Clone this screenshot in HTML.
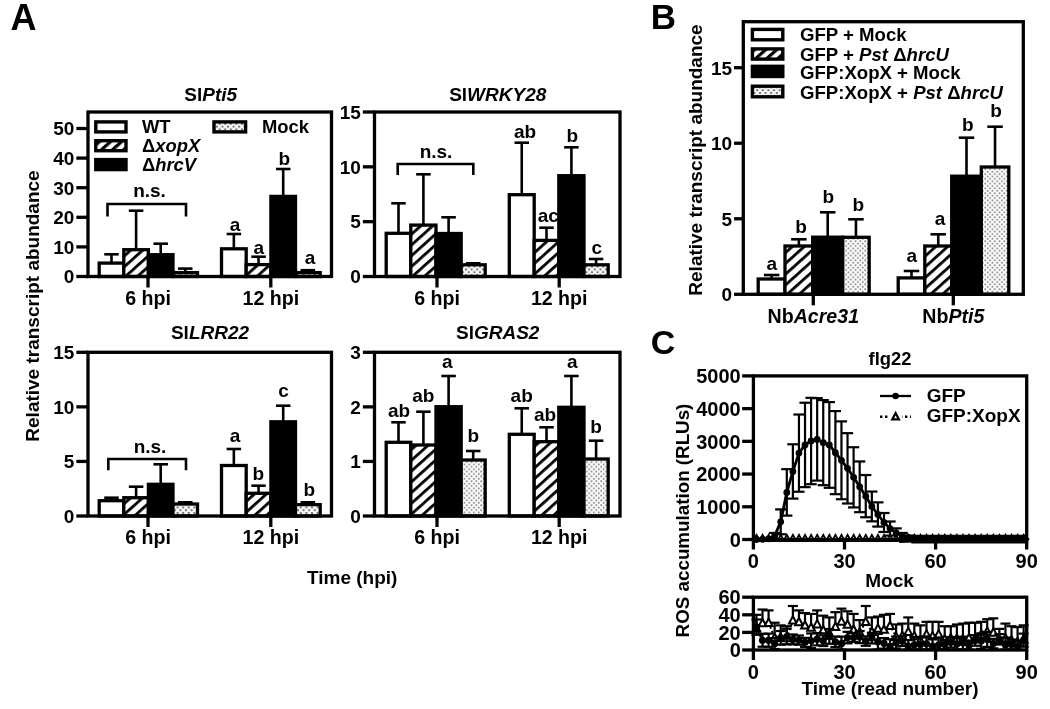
<!DOCTYPE html>
<html><head><meta charset="utf-8"><title>Figure</title>
<style>
html,body{margin:0;padding:0;background:#fff;}
svg{display:block;filter:blur(0.5px);}
text{font-family:"Liberation Sans",sans-serif;font-weight:bold;fill:#000;}
</style></head><body>
<svg width="1050" height="709" viewBox="0 0 1050 709">
<defs>
<pattern id="hatch" width="8" height="8" patternUnits="userSpaceOnUse" patternTransform="rotate(-42)">
<rect width="8" height="8" fill="#fff"/><rect x="0" y="0" width="8" height="2.8" fill="#000"/>
</pattern>
<pattern id="hatchL" width="7.4" height="7.4" patternUnits="userSpaceOnUse" patternTransform="rotate(-42)">
<rect width="7.4" height="7.4" fill="#fff"/><rect x="0" y="0" width="7.4" height="3.2" fill="#000"/>
</pattern>
<pattern id="dots" width="4.8" height="4.8" patternUnits="userSpaceOnUse">
<rect width="4.8" height="4.8" fill="#fdfdfd"/>
<circle cx="1.2" cy="1.2" r="0.9" fill="#777"/><circle cx="3.6" cy="3.6" r="0.9" fill="#777"/>
</pattern>
<pattern id="dotsL" width="5.6" height="5.6" patternUnits="userSpaceOnUse" patternTransform="translate(1.2 0.6)">
<rect width="5.6" height="5.6" fill="#fff"/>
<circle cx="0" cy="0" r="1.25" fill="#777"/><circle cx="5.6" cy="0" r="1.25" fill="#777"/><circle cx="0" cy="5.6" r="1.25" fill="#777"/><circle cx="5.6" cy="5.6" r="1.25" fill="#777"/>
<circle cx="2.8" cy="2.8" r="1.25" fill="#777"/>
</pattern>
</defs>
<rect width="1050" height="709" fill="#fff"/>

<text x="10.6" y="30" font-size="36" text-anchor="start" >A</text>
<text x="650.8" y="29.4" font-size="35" text-anchor="start" >B</text>
<text x="650.8" y="354" font-size="34" text-anchor="start" >C</text>
<line x1="111.5" y1="263.1" x2="111.5" y2="254.3" stroke="#000" stroke-width="2.6" />
<line x1="104.25" y1="254.3" x2="118.75" y2="254.3" stroke="#000" stroke-width="2.6" />
<rect x="99.2" y="263.1" width="24.6" height="13.4" fill="#fff" stroke="#000" stroke-width="3.3"/>
<line x1="136.1" y1="249.7" x2="136.1" y2="210.7" stroke="#000" stroke-width="2.6" />
<line x1="128.85" y1="210.7" x2="143.35" y2="210.7" stroke="#000" stroke-width="2.6" />
<rect x="123.8" y="249.7" width="24.6" height="26.8" fill="url(#hatch)" stroke="#000" stroke-width="3.3"/>
<line x1="160.7" y1="254.7" x2="160.7" y2="243.7" stroke="#000" stroke-width="2.6" />
<line x1="153.45" y1="243.7" x2="167.95" y2="243.7" stroke="#000" stroke-width="2.6" />
<rect x="148.4" y="254.7" width="24.6" height="21.8" fill="#000" stroke="#000" stroke-width="3.3"/>
<line x1="185.25" y1="272.6" x2="185.25" y2="268.6" stroke="#000" stroke-width="2.6" />
<line x1="178" y1="268.6" x2="192.5" y2="268.6" stroke="#000" stroke-width="2.6" />
<rect x="173" y="272.6" width="24.5" height="3.9" fill="url(#dotsL)" stroke="#000" stroke-width="3.3"/>
<line x1="233.85" y1="248.8" x2="233.85" y2="234" stroke="#000" stroke-width="2.6" />
<line x1="226.6" y1="234" x2="241.1" y2="234" stroke="#000" stroke-width="2.6" />
<rect x="221.5" y="248.8" width="24.7" height="27.7" fill="#fff" stroke="#000" stroke-width="3.3"/>
<line x1="258.55" y1="264.6" x2="258.55" y2="256.7" stroke="#000" stroke-width="2.6" />
<line x1="251.3" y1="256.7" x2="265.8" y2="256.7" stroke="#000" stroke-width="2.6" />
<rect x="246.2" y="264.6" width="24.7" height="11.9" fill="url(#hatch)" stroke="#000" stroke-width="3.3"/>
<line x1="283.2" y1="196.4" x2="283.2" y2="169" stroke="#000" stroke-width="2.6" />
<line x1="275.95" y1="169" x2="290.45" y2="169" stroke="#000" stroke-width="2.6" />
<rect x="270.9" y="196.4" width="24.6" height="80.1" fill="#000" stroke="#000" stroke-width="3.3"/>
<line x1="307.85" y1="272.6" x2="307.85" y2="270.2" stroke="#000" stroke-width="2.6" />
<line x1="300.6" y1="270.2" x2="315.1" y2="270.2" stroke="#000" stroke-width="2.6" />
<rect x="295.5" y="272.6" width="24.7" height="3.9" fill="url(#dotsL)" stroke="#000" stroke-width="3.3"/>
<text x="235" y="231.2" font-size="19" text-anchor="middle" >a</text>
<text x="258.8" y="253.5" font-size="19" text-anchor="middle" >a</text>
<text x="284.3" y="165.4" font-size="19" text-anchor="middle" >b</text>
<text x="310" y="264.2" font-size="19" text-anchor="middle" >a</text>
<polyline points="107.5,216.4 107.5,204 186,204 186,216.4" fill="none" stroke="#000" stroke-width="2.6"/>
<text x="149.5" y="196.9" font-size="19" text-anchor="middle" >n.s.</text>
<rect x="88" y="112" width="243.5" height="164.5" fill="none" stroke="#000" stroke-width="3.3"/>
<line x1="76.35" y1="276.5" x2="88" y2="276.5" stroke="#000" stroke-width="3.3" />
<text x="74.35" y="283.3" font-size="19" text-anchor="end" >0</text>
<line x1="76.35" y1="246.9" x2="88" y2="246.9" stroke="#000" stroke-width="3.3" />
<text x="74.35" y="253.7" font-size="19" text-anchor="end" >10</text>
<line x1="76.35" y1="217.3" x2="88" y2="217.3" stroke="#000" stroke-width="3.3" />
<text x="74.35" y="224.1" font-size="19" text-anchor="end" >20</text>
<line x1="76.35" y1="187.7" x2="88" y2="187.7" stroke="#000" stroke-width="3.3" />
<text x="74.35" y="194.5" font-size="19" text-anchor="end" >30</text>
<line x1="76.35" y1="158.1" x2="88" y2="158.1" stroke="#000" stroke-width="3.3" />
<text x="74.35" y="164.9" font-size="19" text-anchor="end" >40</text>
<line x1="76.35" y1="128.5" x2="88" y2="128.5" stroke="#000" stroke-width="3.3" />
<text x="74.35" y="135.3" font-size="19" text-anchor="end" >50</text>
<line x1="148" y1="276.5" x2="148" y2="287.5" stroke="#000" stroke-width="3.3" />
<text x="148" y="304.6" font-size="19.6" text-anchor="middle" >6 hpi</text>
<line x1="270.8" y1="276.5" x2="270.8" y2="287.5" stroke="#000" stroke-width="3.3" />
<text x="270.8" y="304.6" font-size="19.6" text-anchor="middle" >12 hpi</text>
<text x="210.7" y="100.5" font-size="19" text-anchor="middle" >Sl<tspan font-style="italic">Pti5</tspan></text>
<rect x="95.8" y="121.9" width="30.2" height="10" fill="#fff" stroke="#000" stroke-width="3.4"/>
<rect x="95.8" y="140.7" width="30.2" height="10" fill="url(#hatchL)" stroke="#000" stroke-width="3.4"/>
<rect x="95.8" y="159.6" width="30.2" height="10" fill="#000" stroke="#000" stroke-width="3.4"/>
<rect x="214" y="121.9" width="31.6" height="10" fill="url(#dotsL)" stroke="#000" stroke-width="3.4"/>
<text x="142" y="132.8" font-size="18.4" text-anchor="start" >WT</text>
<text x="142" y="151.8" font-size="18.4" text-anchor="start" ><tspan font-style="italic"><tspan font-style="normal">Δ</tspan>xopX</tspan></text>
<text x="142" y="170.8" font-size="18.4" text-anchor="start" ><tspan font-style="italic"><tspan font-style="normal">Δ</tspan>hrcV</tspan></text>
<text x="262" y="132.8" font-size="18.4" text-anchor="start" >Mock</text>
<line x1="398.5" y1="233.3" x2="398.5" y2="203.3" stroke="#000" stroke-width="2.6" />
<line x1="391.25" y1="203.3" x2="405.75" y2="203.3" stroke="#000" stroke-width="2.6" />
<rect x="386.2" y="233.3" width="24.6" height="43.2" fill="#fff" stroke="#000" stroke-width="3.3"/>
<line x1="423.4" y1="225.1" x2="423.4" y2="174.3" stroke="#000" stroke-width="2.6" />
<line x1="416.15" y1="174.3" x2="430.65" y2="174.3" stroke="#000" stroke-width="2.6" />
<rect x="410.8" y="225.1" width="25.2" height="51.4" fill="url(#hatch)" stroke="#000" stroke-width="3.3"/>
<line x1="448.6" y1="233.5" x2="448.6" y2="217.3" stroke="#000" stroke-width="2.6" />
<line x1="441.35" y1="217.3" x2="455.85" y2="217.3" stroke="#000" stroke-width="2.6" />
<rect x="436" y="233.5" width="25.2" height="43" fill="#000" stroke="#000" stroke-width="3.3"/>
<line x1="473.2" y1="264.8" x2="473.2" y2="263.3" stroke="#000" stroke-width="2.6" />
<line x1="465.95" y1="263.3" x2="480.45" y2="263.3" stroke="#000" stroke-width="2.6" />
<rect x="461.2" y="264.8" width="24" height="11.7" fill="url(#dotsL)" stroke="#000" stroke-width="3.3"/>
<line x1="521.75" y1="194.7" x2="521.75" y2="142.7" stroke="#000" stroke-width="2.6" />
<line x1="514.5" y1="142.7" x2="529" y2="142.7" stroke="#000" stroke-width="2.6" />
<rect x="509.3" y="194.7" width="24.9" height="81.8" fill="#fff" stroke="#000" stroke-width="3.3"/>
<line x1="546.5" y1="240.4" x2="546.5" y2="227.7" stroke="#000" stroke-width="2.6" />
<line x1="539.25" y1="227.7" x2="553.75" y2="227.7" stroke="#000" stroke-width="2.6" />
<rect x="534.2" y="240.4" width="24.6" height="36.1" fill="url(#hatch)" stroke="#000" stroke-width="3.3"/>
<line x1="571.4" y1="175.7" x2="571.4" y2="147.3" stroke="#000" stroke-width="2.6" />
<line x1="564.15" y1="147.3" x2="578.65" y2="147.3" stroke="#000" stroke-width="2.6" />
<text x="548.3" y="222.3" font-size="19" text-anchor="middle" >ac</text>
<rect x="558.8" y="175.7" width="25.2" height="100.8" fill="#000" stroke="#000" stroke-width="3.3"/>
<line x1="596.1" y1="264.8" x2="596.1" y2="259" stroke="#000" stroke-width="2.6" />
<line x1="588.85" y1="259" x2="603.35" y2="259" stroke="#000" stroke-width="2.6" />
<rect x="584" y="264.8" width="24.2" height="11.7" fill="url(#dotsL)" stroke="#000" stroke-width="3.3"/>
<text x="525" y="137.7" font-size="19" text-anchor="middle" >ab</text>
<text x="572.3" y="142.3" font-size="19" text-anchor="middle" >b</text>
<text x="596.7" y="254.3" font-size="19" text-anchor="middle" >c</text>
<polyline points="397.7,175 397.7,164 473.3,164 473.3,175" fill="none" stroke="#000" stroke-width="2.6"/>
<text x="436" y="158.3" font-size="19" text-anchor="middle" >n.s.</text>
<rect x="374.5" y="112" width="245.5" height="164.5" fill="none" stroke="#000" stroke-width="3.3"/>
<line x1="362.85" y1="276.5" x2="374.5" y2="276.5" stroke="#000" stroke-width="3.3" />
<text x="360.85" y="283.3" font-size="19" text-anchor="end" >0</text>
<line x1="362.85" y1="221.67" x2="374.5" y2="221.67" stroke="#000" stroke-width="3.3" />
<text x="360.85" y="228.47" font-size="19" text-anchor="end" >5</text>
<line x1="362.85" y1="166.83" x2="374.5" y2="166.83" stroke="#000" stroke-width="3.3" />
<text x="360.85" y="173.64" font-size="19" text-anchor="end" >10</text>
<line x1="362.85" y1="112" x2="374.5" y2="112" stroke="#000" stroke-width="3.3" />
<text x="360.85" y="118.8" font-size="19" text-anchor="end" >15</text>
<line x1="437" y1="276.5" x2="437" y2="287.5" stroke="#000" stroke-width="3.3" />
<text x="437" y="304.6" font-size="19.6" text-anchor="middle" >6 hpi</text>
<line x1="559.2" y1="276.5" x2="559.2" y2="287.5" stroke="#000" stroke-width="3.3" />
<text x="559.2" y="304.6" font-size="19.6" text-anchor="middle" >12 hpi</text>
<text x="497.7" y="100.5" font-size="19" text-anchor="middle" >Sl<tspan font-style="italic">WRKY28</tspan></text>
<line x1="111.5" y1="500.7" x2="111.5" y2="497.7" stroke="#000" stroke-width="2.6" />
<line x1="104.25" y1="497.7" x2="118.75" y2="497.7" stroke="#000" stroke-width="2.6" />
<rect x="99.2" y="500.7" width="24.6" height="15.3" fill="#fff" stroke="#000" stroke-width="3.3"/>
<line x1="136.1" y1="497.7" x2="136.1" y2="486.7" stroke="#000" stroke-width="2.6" />
<line x1="128.85" y1="486.7" x2="143.35" y2="486.7" stroke="#000" stroke-width="2.6" />
<rect x="123.8" y="497.7" width="24.6" height="18.3" fill="url(#hatch)" stroke="#000" stroke-width="3.3"/>
<line x1="160.7" y1="484.3" x2="160.7" y2="464.3" stroke="#000" stroke-width="2.6" />
<line x1="153.45" y1="464.3" x2="167.95" y2="464.3" stroke="#000" stroke-width="2.6" />
<rect x="148.4" y="484.3" width="24.6" height="31.7" fill="#000" stroke="#000" stroke-width="3.3"/>
<line x1="185.25" y1="504" x2="185.25" y2="502.3" stroke="#000" stroke-width="2.6" />
<line x1="178" y1="502.3" x2="192.5" y2="502.3" stroke="#000" stroke-width="2.6" />
<rect x="173" y="504" width="24.5" height="12" fill="url(#dotsL)" stroke="#000" stroke-width="3.3"/>
<line x1="233.85" y1="465.5" x2="233.85" y2="449" stroke="#000" stroke-width="2.6" />
<line x1="226.6" y1="449" x2="241.1" y2="449" stroke="#000" stroke-width="2.6" />
<rect x="221.5" y="465.5" width="24.7" height="50.5" fill="#fff" stroke="#000" stroke-width="3.3"/>
<line x1="258.55" y1="493.3" x2="258.55" y2="485.7" stroke="#000" stroke-width="2.6" />
<line x1="251.3" y1="485.7" x2="265.8" y2="485.7" stroke="#000" stroke-width="2.6" />
<rect x="246.2" y="493.3" width="24.7" height="22.7" fill="url(#hatch)" stroke="#000" stroke-width="3.3"/>
<line x1="283.2" y1="421.8" x2="283.2" y2="405.7" stroke="#000" stroke-width="2.6" />
<line x1="275.95" y1="405.7" x2="290.45" y2="405.7" stroke="#000" stroke-width="2.6" />
<rect x="270.9" y="421.8" width="24.6" height="94.2" fill="#000" stroke="#000" stroke-width="3.3"/>
<line x1="307.85" y1="504.6" x2="307.85" y2="502.3" stroke="#000" stroke-width="2.6" />
<line x1="300.6" y1="502.3" x2="315.1" y2="502.3" stroke="#000" stroke-width="2.6" />
<rect x="295.5" y="504.6" width="24.7" height="11.4" fill="url(#dotsL)" stroke="#000" stroke-width="3.3"/>
<text x="235" y="441.7" font-size="19" text-anchor="middle" >a</text>
<text x="258.3" y="480" font-size="19" text-anchor="middle" >b</text>
<text x="283.5" y="396.7" font-size="19" text-anchor="middle" >c</text>
<text x="309.3" y="495.7" font-size="19" text-anchor="middle" >b</text>
<polyline points="108.3,470.3 108.3,459 186,459 186,470.3" fill="none" stroke="#000" stroke-width="2.6"/>
<text x="150" y="452.5" font-size="19" text-anchor="middle" >n.s.</text>
<rect x="88" y="352.3" width="243.5" height="163.7" fill="none" stroke="#000" stroke-width="3.3"/>
<line x1="76.35" y1="516" x2="88" y2="516" stroke="#000" stroke-width="3.3" />
<text x="74.35" y="522.8" font-size="19" text-anchor="end" >0</text>
<line x1="76.35" y1="461.43" x2="88" y2="461.43" stroke="#000" stroke-width="3.3" />
<text x="74.35" y="468.24" font-size="19" text-anchor="end" >5</text>
<line x1="76.35" y1="406.87" x2="88" y2="406.87" stroke="#000" stroke-width="3.3" />
<text x="74.35" y="413.67" font-size="19" text-anchor="end" >10</text>
<line x1="76.35" y1="352.3" x2="88" y2="352.3" stroke="#000" stroke-width="3.3" />
<text x="74.35" y="359.1" font-size="19" text-anchor="end" >15</text>
<line x1="148" y1="516" x2="148" y2="527" stroke="#000" stroke-width="3.3" />
<text x="148" y="543.9" font-size="19.6" text-anchor="middle" >6 hpi</text>
<line x1="270.8" y1="516" x2="270.8" y2="527" stroke="#000" stroke-width="3.3" />
<text x="270.8" y="543.9" font-size="19.6" text-anchor="middle" >12 hpi</text>
<text x="210" y="339.3" font-size="19" text-anchor="middle" >Sl<tspan font-style="italic">LRR22</tspan></text>
<line x1="398.5" y1="442.3" x2="398.5" y2="422.3" stroke="#000" stroke-width="2.6" />
<line x1="391.25" y1="422.3" x2="405.75" y2="422.3" stroke="#000" stroke-width="2.6" />
<rect x="386.2" y="442.3" width="24.6" height="73.7" fill="#fff" stroke="#000" stroke-width="3.3"/>
<line x1="423.4" y1="445" x2="423.4" y2="411.7" stroke="#000" stroke-width="2.6" />
<line x1="416.15" y1="411.7" x2="430.65" y2="411.7" stroke="#000" stroke-width="2.6" />
<rect x="410.8" y="445" width="25.2" height="71" fill="url(#hatch)" stroke="#000" stroke-width="3.3"/>
<line x1="448.6" y1="406.7" x2="448.6" y2="376" stroke="#000" stroke-width="2.6" />
<line x1="441.35" y1="376" x2="455.85" y2="376" stroke="#000" stroke-width="2.6" />
<rect x="436" y="406.7" width="25.2" height="109.3" fill="#000" stroke="#000" stroke-width="3.3"/>
<line x1="473.2" y1="460" x2="473.2" y2="451" stroke="#000" stroke-width="2.6" />
<line x1="465.95" y1="451" x2="480.45" y2="451" stroke="#000" stroke-width="2.6" />
<rect x="461.2" y="460" width="24" height="56" fill="url(#dots)" stroke="#000" stroke-width="3.3"/>
<text x="399" y="417.3" font-size="19" text-anchor="middle" >ab</text>
<text x="423.3" y="401.7" font-size="19" text-anchor="middle" >ab</text>
<text x="447.3" y="368.3" font-size="19" text-anchor="middle" >a</text>
<text x="473.3" y="442.3" font-size="19" text-anchor="middle" >b</text>
<line x1="521.75" y1="434.3" x2="521.75" y2="408.3" stroke="#000" stroke-width="2.6" />
<line x1="514.5" y1="408.3" x2="529" y2="408.3" stroke="#000" stroke-width="2.6" />
<rect x="509.3" y="434.3" width="24.9" height="81.7" fill="#fff" stroke="#000" stroke-width="3.3"/>
<line x1="546.5" y1="441.7" x2="546.5" y2="427.3" stroke="#000" stroke-width="2.6" />
<line x1="539.25" y1="427.3" x2="553.75" y2="427.3" stroke="#000" stroke-width="2.6" />
<rect x="534.2" y="441.7" width="24.6" height="74.3" fill="url(#hatch)" stroke="#000" stroke-width="3.3"/>
<line x1="571.4" y1="407.3" x2="571.4" y2="376" stroke="#000" stroke-width="2.6" />
<line x1="564.15" y1="376" x2="578.65" y2="376" stroke="#000" stroke-width="2.6" />
<text x="545" y="421" font-size="19" text-anchor="middle" >ab</text>
<rect x="558.8" y="407.3" width="25.2" height="108.7" fill="#000" stroke="#000" stroke-width="3.3"/>
<line x1="596.1" y1="459" x2="596.1" y2="440.7" stroke="#000" stroke-width="2.6" />
<line x1="588.85" y1="440.7" x2="603.35" y2="440.7" stroke="#000" stroke-width="2.6" />
<rect x="584" y="459" width="24.2" height="57" fill="url(#dots)" stroke="#000" stroke-width="3.3"/>
<text x="521.7" y="401.7" font-size="19" text-anchor="middle" >ab</text>
<text x="572.3" y="368.3" font-size="19" text-anchor="middle" >a</text>
<text x="596" y="433.3" font-size="19" text-anchor="middle" >b</text>
<rect x="374.5" y="352.3" width="245.5" height="163.7" fill="none" stroke="#000" stroke-width="3.3"/>
<line x1="362.85" y1="516" x2="374.5" y2="516" stroke="#000" stroke-width="3.3" />
<text x="360.85" y="522.8" font-size="19" text-anchor="end" >0</text>
<line x1="362.85" y1="461.43" x2="374.5" y2="461.43" stroke="#000" stroke-width="3.3" />
<text x="360.85" y="468.24" font-size="19" text-anchor="end" >1</text>
<line x1="362.85" y1="406.87" x2="374.5" y2="406.87" stroke="#000" stroke-width="3.3" />
<text x="360.85" y="413.67" font-size="19" text-anchor="end" >2</text>
<line x1="362.85" y1="352.3" x2="374.5" y2="352.3" stroke="#000" stroke-width="3.3" />
<text x="360.85" y="359.1" font-size="19" text-anchor="end" >3</text>
<line x1="437" y1="516" x2="437" y2="527" stroke="#000" stroke-width="3.3" />
<text x="437" y="543.9" font-size="19.6" text-anchor="middle" >6 hpi</text>
<line x1="559.2" y1="516" x2="559.2" y2="527" stroke="#000" stroke-width="3.3" />
<text x="559.2" y="543.9" font-size="19.6" text-anchor="middle" >12 hpi</text>
<text x="497.7" y="339.3" font-size="19" text-anchor="middle" >Sl<tspan font-style="italic">GRAS2</tspan></text>
<text transform="translate(39.4,306) rotate(-90)" font-size="19" text-anchor="middle">Relative transcript abundance</text>
<text x="352.2" y="583.8" font-size="19" text-anchor="middle" >Time (hpi)</text>
<line x1="771.6" y1="279" x2="771.6" y2="275" stroke="#000" stroke-width="2.6" />
<line x1="763.85" y1="275" x2="779.35" y2="275" stroke="#000" stroke-width="2.6" />
<rect x="758.2" y="279" width="26.8" height="15.3" fill="#fff" stroke="#000" stroke-width="3.3"/>
<line x1="798.85" y1="246" x2="798.85" y2="239.3" stroke="#000" stroke-width="2.6" />
<line x1="791.1" y1="239.3" x2="806.6" y2="239.3" stroke="#000" stroke-width="2.6" />
<rect x="785" y="246" width="27.7" height="48.3" fill="url(#hatch)" stroke="#000" stroke-width="3.3"/>
<line x1="827.7" y1="237.2" x2="827.7" y2="212.3" stroke="#000" stroke-width="2.6" />
<line x1="819.95" y1="212.3" x2="835.45" y2="212.3" stroke="#000" stroke-width="2.6" />
<rect x="812.7" y="237.2" width="30" height="57.1" fill="#000" stroke="#000" stroke-width="3.3"/>
<line x1="855.95" y1="237.3" x2="855.95" y2="219.3" stroke="#000" stroke-width="2.6" />
<line x1="848.2" y1="219.3" x2="863.7" y2="219.3" stroke="#000" stroke-width="2.6" />
<rect x="842.7" y="237.3" width="26.5" height="57" fill="url(#dots)" stroke="#000" stroke-width="3.3"/>
<text x="771.7" y="270.3" font-size="19" text-anchor="middle" >a</text>
<text x="801" y="232.9" font-size="19" text-anchor="middle" >b</text>
<text x="828.3" y="203" font-size="19" text-anchor="middle" >b</text>
<text x="858.3" y="210.8" font-size="19" text-anchor="middle" >b</text>
<line x1="911.5" y1="277.9" x2="911.5" y2="271" stroke="#000" stroke-width="2.6" />
<line x1="903.75" y1="271" x2="919.25" y2="271" stroke="#000" stroke-width="2.6" />
<rect x="898.2" y="277.9" width="26.6" height="16.4" fill="#fff" stroke="#000" stroke-width="3.3"/>
<line x1="938.25" y1="246" x2="938.25" y2="234.3" stroke="#000" stroke-width="2.6" />
<line x1="930.5" y1="234.3" x2="946" y2="234.3" stroke="#000" stroke-width="2.6" />
<rect x="924.8" y="246" width="26.9" height="48.3" fill="url(#hatch)" stroke="#000" stroke-width="3.3"/>
<line x1="966.5" y1="176.2" x2="966.5" y2="137.7" stroke="#000" stroke-width="2.6" />
<line x1="958.75" y1="137.7" x2="974.25" y2="137.7" stroke="#000" stroke-width="2.6" />
<rect x="951.7" y="176.2" width="29.6" height="118.1" fill="#000" stroke="#000" stroke-width="3.3"/>
<line x1="995.05" y1="167" x2="995.05" y2="126.7" stroke="#000" stroke-width="2.6" />
<line x1="987.3" y1="126.7" x2="1002.8" y2="126.7" stroke="#000" stroke-width="2.6" />
<rect x="981.3" y="167" width="27.5" height="127.3" fill="url(#dots)" stroke="#000" stroke-width="3.3"/>
<text x="911.7" y="261.7" font-size="19" text-anchor="middle" >a</text>
<text x="940" y="225" font-size="19" text-anchor="middle" >a</text>
<text x="967.7" y="131" font-size="19" text-anchor="middle" >b</text>
<text x="996" y="116.7" font-size="19" text-anchor="middle" >b</text>
<rect x="743.3" y="21.7" width="280" height="272.6" fill="none" stroke="#000" stroke-width="3.3"/>
<line x1="734.05" y1="294.3" x2="743.3" y2="294.3" stroke="#000" stroke-width="3.3" />
<text x="732.05" y="301.1" font-size="19" text-anchor="end" >0</text>
<line x1="734.05" y1="218.77" x2="743.3" y2="218.77" stroke="#000" stroke-width="3.3" />
<text x="732.05" y="225.57" font-size="19" text-anchor="end" >5</text>
<line x1="734.05" y1="143.23" x2="743.3" y2="143.23" stroke="#000" stroke-width="3.3" />
<text x="732.05" y="150.04" font-size="19" text-anchor="end" >10</text>
<line x1="734.05" y1="67.7" x2="743.3" y2="67.7" stroke="#000" stroke-width="3.3" />
<text x="732.05" y="74.5" font-size="19" text-anchor="end" >15</text>
<line x1="813.3" y1="294.3" x2="813.3" y2="305.3" stroke="#000" stroke-width="3.3" />
<text x="813.3" y="322.9" font-size="19.6" text-anchor="middle" >Nb<tspan font-style="italic">Acre31</tspan></text>
<line x1="953.3" y1="294.3" x2="953.3" y2="305.3" stroke="#000" stroke-width="3.3" />
<text x="953.3" y="322.9" font-size="19.6" text-anchor="middle" >Nb<tspan font-style="italic">Pti5</tspan></text>
<text x="0" y="-100" font-size="19" text-anchor="middle" ></text>
<rect x="752.4" y="29.4" width="30.4" height="10.4" fill="#fff" stroke="#000" stroke-width="3.4"/>
<rect x="752.4" y="48.9" width="30.4" height="10.2" fill="url(#hatchL)" stroke="#000" stroke-width="3.4"/>
<rect x="752.4" y="66.3" width="30.4" height="10.2" fill="#000" stroke="#000" stroke-width="3.4"/>
<rect x="752.4" y="86.2" width="30.4" height="10.6" fill="url(#dotsL)" stroke="#000" stroke-width="3.4"/>
<text x="800" y="40.7" font-size="18.6" text-anchor="start" >GFP + Mock</text>
<text x="800" y="60.7" font-size="18.6" text-anchor="start" >GFP + <tspan font-style="italic">Pst <tspan font-style="normal">Δ</tspan>hrcU</tspan></text>
<text x="800" y="79.3" font-size="18.6" text-anchor="start" >GFP:XopX + Mock</text>
<text x="800" y="99" font-size="18.6" text-anchor="start" >GFP:XopX + <tspan font-style="italic">Pst <tspan font-style="normal">Δ</tspan>hrcU</tspan></text>
<text transform="translate(702.2,160) rotate(-90)" font-size="19" text-anchor="middle">Relative transcript abundance</text>
<path d="M756.44,534.75 L759.86,541.23 L753.02,541.23 Z" fill="#fff" stroke="#000" stroke-width="1.7" stroke-linejoin="miter"/>
<path d="M762.51,534.75 L765.93,541.23 L759.09,541.23 Z" fill="#fff" stroke="#000" stroke-width="1.7" stroke-linejoin="miter"/>
<path d="M768.58,534.75 L772,541.23 L765.16,541.23 Z" fill="#fff" stroke="#000" stroke-width="1.7" stroke-linejoin="miter"/>
<path d="M774.66,534.75 L778.08,541.23 L771.24,541.23 Z" fill="#fff" stroke="#000" stroke-width="1.7" stroke-linejoin="miter"/>
<path d="M780.73,534.75 L784.15,541.23 L777.31,541.23 Z" fill="#fff" stroke="#000" stroke-width="1.7" stroke-linejoin="miter"/>
<path d="M786.8,534.75 L790.22,541.23 L783.38,541.23 Z" fill="#fff" stroke="#000" stroke-width="1.7" stroke-linejoin="miter"/>
<path d="M792.88,534.75 L796.3,541.23 L789.46,541.23 Z" fill="#fff" stroke="#000" stroke-width="1.7" stroke-linejoin="miter"/>
<path d="M798.95,534.75 L802.37,541.23 L795.53,541.23 Z" fill="#fff" stroke="#000" stroke-width="1.7" stroke-linejoin="miter"/>
<path d="M805.02,534.75 L808.44,541.23 L801.6,541.23 Z" fill="#fff" stroke="#000" stroke-width="1.7" stroke-linejoin="miter"/>
<path d="M811.1,534.75 L814.52,541.23 L807.68,541.23 Z" fill="#fff" stroke="#000" stroke-width="1.7" stroke-linejoin="miter"/>
<path d="M817.17,534.75 L820.59,541.23 L813.75,541.23 Z" fill="#fff" stroke="#000" stroke-width="1.7" stroke-linejoin="miter"/>
<path d="M823.24,534.75 L826.66,541.23 L819.82,541.23 Z" fill="#fff" stroke="#000" stroke-width="1.7" stroke-linejoin="miter"/>
<path d="M829.32,534.75 L832.74,541.23 L825.9,541.23 Z" fill="#fff" stroke="#000" stroke-width="1.7" stroke-linejoin="miter"/>
<path d="M835.39,534.75 L838.81,541.23 L831.97,541.23 Z" fill="#fff" stroke="#000" stroke-width="1.7" stroke-linejoin="miter"/>
<path d="M841.46,534.75 L844.88,541.23 L838.04,541.23 Z" fill="#fff" stroke="#000" stroke-width="1.7" stroke-linejoin="miter"/>
<path d="M847.54,534.75 L850.96,541.23 L844.12,541.23 Z" fill="#fff" stroke="#000" stroke-width="1.7" stroke-linejoin="miter"/>
<path d="M853.61,534.75 L857.03,541.23 L850.19,541.23 Z" fill="#fff" stroke="#000" stroke-width="1.7" stroke-linejoin="miter"/>
<path d="M859.68,534.75 L863.1,541.23 L856.26,541.23 Z" fill="#fff" stroke="#000" stroke-width="1.7" stroke-linejoin="miter"/>
<path d="M865.76,534.75 L869.18,541.23 L862.34,541.23 Z" fill="#fff" stroke="#000" stroke-width="1.7" stroke-linejoin="miter"/>
<path d="M871.83,534.75 L875.25,541.23 L868.41,541.23 Z" fill="#fff" stroke="#000" stroke-width="1.7" stroke-linejoin="miter"/>
<path d="M877.9,534.75 L881.32,541.23 L874.48,541.23 Z" fill="#fff" stroke="#000" stroke-width="1.7" stroke-linejoin="miter"/>
<path d="M883.98,534.75 L887.4,541.23 L880.56,541.23 Z" fill="#fff" stroke="#000" stroke-width="1.7" stroke-linejoin="miter"/>
<path d="M890.05,534.75 L893.47,541.23 L886.63,541.23 Z" fill="#fff" stroke="#000" stroke-width="1.7" stroke-linejoin="miter"/>
<path d="M896.12,534.75 L899.54,541.23 L892.7,541.23 Z" fill="#fff" stroke="#000" stroke-width="1.7" stroke-linejoin="miter"/>
<path d="M902.2,534.75 L905.62,541.23 L898.78,541.23 Z" fill="#fff" stroke="#000" stroke-width="1.7" stroke-linejoin="miter"/>
<path d="M908.27,534.75 L911.69,541.23 L904.85,541.23 Z" fill="#fff" stroke="#000" stroke-width="1.7" stroke-linejoin="miter"/>
<path d="M914.34,534.75 L917.76,541.23 L910.92,541.23 Z" fill="#fff" stroke="#000" stroke-width="1.7" stroke-linejoin="miter"/>
<path d="M920.42,534.75 L923.84,541.23 L917,541.23 Z" fill="#fff" stroke="#000" stroke-width="1.7" stroke-linejoin="miter"/>
<path d="M926.49,534.75 L929.91,541.23 L923.07,541.23 Z" fill="#fff" stroke="#000" stroke-width="1.7" stroke-linejoin="miter"/>
<path d="M932.56,534.75 L935.98,541.23 L929.14,541.23 Z" fill="#fff" stroke="#000" stroke-width="1.7" stroke-linejoin="miter"/>
<path d="M938.64,534.75 L942.06,541.23 L935.22,541.23 Z" fill="#fff" stroke="#000" stroke-width="1.7" stroke-linejoin="miter"/>
<path d="M944.71,534.75 L948.13,541.23 L941.29,541.23 Z" fill="#fff" stroke="#000" stroke-width="1.7" stroke-linejoin="miter"/>
<path d="M950.78,534.75 L954.2,541.23 L947.36,541.23 Z" fill="#fff" stroke="#000" stroke-width="1.7" stroke-linejoin="miter"/>
<path d="M956.86,534.75 L960.28,541.23 L953.44,541.23 Z" fill="#fff" stroke="#000" stroke-width="1.7" stroke-linejoin="miter"/>
<path d="M962.93,534.75 L966.35,541.23 L959.51,541.23 Z" fill="#fff" stroke="#000" stroke-width="1.7" stroke-linejoin="miter"/>
<path d="M969,534.75 L972.42,541.23 L965.58,541.23 Z" fill="#fff" stroke="#000" stroke-width="1.7" stroke-linejoin="miter"/>
<path d="M975.08,534.75 L978.5,541.23 L971.66,541.23 Z" fill="#fff" stroke="#000" stroke-width="1.7" stroke-linejoin="miter"/>
<path d="M981.15,534.75 L984.57,541.23 L977.73,541.23 Z" fill="#fff" stroke="#000" stroke-width="1.7" stroke-linejoin="miter"/>
<path d="M987.22,534.75 L990.64,541.23 L983.8,541.23 Z" fill="#fff" stroke="#000" stroke-width="1.7" stroke-linejoin="miter"/>
<path d="M993.3,534.75 L996.72,541.23 L989.88,541.23 Z" fill="#fff" stroke="#000" stroke-width="1.7" stroke-linejoin="miter"/>
<path d="M999.37,534.75 L1002.79,541.23 L995.95,541.23 Z" fill="#fff" stroke="#000" stroke-width="1.7" stroke-linejoin="miter"/>
<path d="M1005.44,534.75 L1008.86,541.23 L1002.02,541.23 Z" fill="#fff" stroke="#000" stroke-width="1.7" stroke-linejoin="miter"/>
<path d="M1011.52,534.75 L1014.94,541.23 L1008.1,541.23 Z" fill="#fff" stroke="#000" stroke-width="1.7" stroke-linejoin="miter"/>
<path d="M1017.59,534.75 L1021.01,541.23 L1014.17,541.23 Z" fill="#fff" stroke="#000" stroke-width="1.7" stroke-linejoin="miter"/>
<path d="M1023.66,534.75 L1027.08,541.23 L1020.24,541.23 Z" fill="#fff" stroke="#000" stroke-width="1.7" stroke-linejoin="miter"/>
<line x1="756.44" y1="539.24" x2="756.44" y2="539.76" stroke="#000" stroke-width="2.2" />
<line x1="750.84" y1="539.24" x2="762.04" y2="539.24" stroke="#000" stroke-width="2.2" />
<line x1="762.51" y1="539.01" x2="762.51" y2="539.66" stroke="#000" stroke-width="2.2" />
<line x1="756.91" y1="539.01" x2="768.11" y2="539.01" stroke="#000" stroke-width="2.2" />
<line x1="768.58" y1="538.03" x2="768.58" y2="539.66" stroke="#000" stroke-width="2.2" />
<line x1="762.98" y1="538.03" x2="774.18" y2="538.03" stroke="#000" stroke-width="2.2" />
<line x1="774.66" y1="532.96" x2="774.66" y2="538.85" stroke="#000" stroke-width="2.2" />
<line x1="769.06" y1="532.96" x2="780.26" y2="532.96" stroke="#000" stroke-width="2.2" />
<line x1="780.73" y1="509.4" x2="780.73" y2="534.26" stroke="#000" stroke-width="2.2" />
<line x1="775.13" y1="509.4" x2="786.33" y2="509.4" stroke="#000" stroke-width="2.2" />
<line x1="775.13" y1="534.26" x2="786.33" y2="534.26" stroke="#000" stroke-width="2.2" />
<line x1="786.8" y1="469.15" x2="786.8" y2="515.61" stroke="#000" stroke-width="2.2" />
<line x1="781.2" y1="469.15" x2="792.4" y2="469.15" stroke="#000" stroke-width="2.2" />
<line x1="781.2" y1="515.61" x2="792.4" y2="515.61" stroke="#000" stroke-width="2.2" />
<line x1="792.88" y1="444.28" x2="792.88" y2="498.6" stroke="#000" stroke-width="2.2" />
<line x1="787.28" y1="444.28" x2="798.48" y2="444.28" stroke="#000" stroke-width="2.2" />
<line x1="787.28" y1="498.6" x2="798.48" y2="498.6" stroke="#000" stroke-width="2.2" />
<line x1="798.95" y1="414.51" x2="798.95" y2="491.73" stroke="#000" stroke-width="2.2" />
<line x1="793.35" y1="414.51" x2="804.55" y2="414.51" stroke="#000" stroke-width="2.2" />
<line x1="793.35" y1="491.73" x2="804.55" y2="491.73" stroke="#000" stroke-width="2.2" />
<line x1="805.02" y1="402.73" x2="805.02" y2="487.15" stroke="#000" stroke-width="2.2" />
<line x1="799.42" y1="402.73" x2="810.62" y2="402.73" stroke="#000" stroke-width="2.2" />
<line x1="799.42" y1="487.15" x2="810.62" y2="487.15" stroke="#000" stroke-width="2.2" />
<line x1="811.1" y1="397.82" x2="811.1" y2="484.2" stroke="#000" stroke-width="2.2" />
<line x1="805.5" y1="397.82" x2="816.7" y2="397.82" stroke="#000" stroke-width="2.2" />
<line x1="805.5" y1="484.2" x2="816.7" y2="484.2" stroke="#000" stroke-width="2.2" />
<line x1="817.17" y1="398.15" x2="817.17" y2="480.6" stroke="#000" stroke-width="2.2" />
<line x1="811.57" y1="398.15" x2="822.77" y2="398.15" stroke="#000" stroke-width="2.2" />
<line x1="811.57" y1="480.6" x2="822.77" y2="480.6" stroke="#000" stroke-width="2.2" />
<line x1="823.24" y1="400.11" x2="823.24" y2="485.18" stroke="#000" stroke-width="2.2" />
<line x1="817.64" y1="400.11" x2="828.84" y2="400.11" stroke="#000" stroke-width="2.2" />
<line x1="817.64" y1="485.18" x2="828.84" y2="485.18" stroke="#000" stroke-width="2.2" />
<line x1="829.32" y1="402.08" x2="829.32" y2="487.8" stroke="#000" stroke-width="2.2" />
<line x1="823.72" y1="402.08" x2="834.92" y2="402.08" stroke="#000" stroke-width="2.2" />
<line x1="823.72" y1="487.8" x2="834.92" y2="487.8" stroke="#000" stroke-width="2.2" />
<line x1="835.39" y1="411.07" x2="835.39" y2="494.18" stroke="#000" stroke-width="2.2" />
<line x1="829.79" y1="411.07" x2="840.99" y2="411.07" stroke="#000" stroke-width="2.2" />
<line x1="829.79" y1="494.18" x2="840.99" y2="494.18" stroke="#000" stroke-width="2.2" />
<line x1="841.46" y1="421.38" x2="841.46" y2="499.25" stroke="#000" stroke-width="2.2" />
<line x1="835.86" y1="421.38" x2="847.06" y2="421.38" stroke="#000" stroke-width="2.2" />
<line x1="835.86" y1="499.25" x2="847.06" y2="499.25" stroke="#000" stroke-width="2.2" />
<line x1="847.54" y1="433.16" x2="847.54" y2="503.51" stroke="#000" stroke-width="2.2" />
<line x1="841.94" y1="433.16" x2="853.14" y2="433.16" stroke="#000" stroke-width="2.2" />
<line x1="841.94" y1="503.51" x2="853.14" y2="503.51" stroke="#000" stroke-width="2.2" />
<line x1="853.61" y1="447.23" x2="853.61" y2="507.43" stroke="#000" stroke-width="2.2" />
<line x1="848.01" y1="447.23" x2="859.21" y2="447.23" stroke="#000" stroke-width="2.2" />
<line x1="848.01" y1="507.43" x2="859.21" y2="507.43" stroke="#000" stroke-width="2.2" />
<line x1="859.68" y1="461.46" x2="859.68" y2="512.18" stroke="#000" stroke-width="2.2" />
<line x1="854.08" y1="461.46" x2="865.28" y2="461.46" stroke="#000" stroke-width="2.2" />
<line x1="854.08" y1="512.18" x2="865.28" y2="512.18" stroke="#000" stroke-width="2.2" />
<line x1="865.76" y1="475.04" x2="865.76" y2="517.25" stroke="#000" stroke-width="2.2" />
<line x1="860.16" y1="475.04" x2="871.36" y2="475.04" stroke="#000" stroke-width="2.2" />
<line x1="860.16" y1="517.25" x2="871.36" y2="517.25" stroke="#000" stroke-width="2.2" />
<line x1="871.83" y1="491.57" x2="871.83" y2="521.34" stroke="#000" stroke-width="2.2" />
<line x1="866.23" y1="491.57" x2="877.43" y2="491.57" stroke="#000" stroke-width="2.2" />
<line x1="866.23" y1="521.34" x2="877.43" y2="521.34" stroke="#000" stroke-width="2.2" />
<line x1="877.9" y1="502.36" x2="877.9" y2="526.58" stroke="#000" stroke-width="2.2" />
<line x1="872.3" y1="502.36" x2="883.5" y2="502.36" stroke="#000" stroke-width="2.2" />
<line x1="872.3" y1="526.58" x2="883.5" y2="526.58" stroke="#000" stroke-width="2.2" />
<line x1="883.98" y1="513" x2="883.98" y2="531.97" stroke="#000" stroke-width="2.2" />
<line x1="878.38" y1="513" x2="889.58" y2="513" stroke="#000" stroke-width="2.2" />
<line x1="878.38" y1="531.97" x2="889.58" y2="531.97" stroke="#000" stroke-width="2.2" />
<line x1="890.05" y1="521.5" x2="890.05" y2="535.57" stroke="#000" stroke-width="2.2" />
<line x1="884.45" y1="521.5" x2="895.65" y2="521.5" stroke="#000" stroke-width="2.2" />
<line x1="884.45" y1="535.57" x2="895.65" y2="535.57" stroke="#000" stroke-width="2.2" />
<line x1="896.12" y1="528.38" x2="896.12" y2="537.54" stroke="#000" stroke-width="2.2" />
<line x1="890.52" y1="528.38" x2="901.72" y2="528.38" stroke="#000" stroke-width="2.2" />
<line x1="902.2" y1="532.96" x2="902.2" y2="538.52" stroke="#000" stroke-width="2.2" />
<line x1="896.6" y1="532.96" x2="907.8" y2="532.96" stroke="#000" stroke-width="2.2" />
<line x1="908.27" y1="535.74" x2="908.27" y2="539.01" stroke="#000" stroke-width="2.2" />
<line x1="902.67" y1="535.74" x2="913.87" y2="535.74" stroke="#000" stroke-width="2.2" />
<line x1="914.34" y1="537.21" x2="914.34" y2="539.17" stroke="#000" stroke-width="2.2" />
<line x1="908.74" y1="537.21" x2="919.94" y2="537.21" stroke="#000" stroke-width="2.2" />
<line x1="920.42" y1="538.03" x2="920.42" y2="539.34" stroke="#000" stroke-width="2.2" />
<line x1="914.82" y1="538.03" x2="926.02" y2="538.03" stroke="#000" stroke-width="2.2" />
<line x1="926.49" y1="538.52" x2="926.49" y2="539.5" stroke="#000" stroke-width="2.2" />
<line x1="920.89" y1="538.52" x2="932.09" y2="538.52" stroke="#000" stroke-width="2.2" />
<line x1="932.56" y1="538.98" x2="932.56" y2="539.63" stroke="#000" stroke-width="2.2" />
<line x1="926.96" y1="538.98" x2="938.16" y2="538.98" stroke="#000" stroke-width="2.2" />
<line x1="938.64" y1="538.98" x2="938.64" y2="539.63" stroke="#000" stroke-width="2.2" />
<line x1="933.04" y1="538.98" x2="944.24" y2="538.98" stroke="#000" stroke-width="2.2" />
<line x1="944.71" y1="538.98" x2="944.71" y2="539.63" stroke="#000" stroke-width="2.2" />
<line x1="939.11" y1="538.98" x2="950.31" y2="538.98" stroke="#000" stroke-width="2.2" />
<line x1="950.78" y1="538.98" x2="950.78" y2="539.63" stroke="#000" stroke-width="2.2" />
<line x1="945.18" y1="538.98" x2="956.38" y2="538.98" stroke="#000" stroke-width="2.2" />
<line x1="956.86" y1="538.98" x2="956.86" y2="539.63" stroke="#000" stroke-width="2.2" />
<line x1="951.26" y1="538.98" x2="962.46" y2="538.98" stroke="#000" stroke-width="2.2" />
<line x1="962.93" y1="538.98" x2="962.93" y2="539.63" stroke="#000" stroke-width="2.2" />
<line x1="957.33" y1="538.98" x2="968.53" y2="538.98" stroke="#000" stroke-width="2.2" />
<line x1="969" y1="538.98" x2="969" y2="539.63" stroke="#000" stroke-width="2.2" />
<line x1="963.4" y1="538.98" x2="974.6" y2="538.98" stroke="#000" stroke-width="2.2" />
<line x1="975.08" y1="538.98" x2="975.08" y2="539.63" stroke="#000" stroke-width="2.2" />
<line x1="969.48" y1="538.98" x2="980.68" y2="538.98" stroke="#000" stroke-width="2.2" />
<line x1="981.15" y1="538.98" x2="981.15" y2="539.63" stroke="#000" stroke-width="2.2" />
<line x1="975.55" y1="538.98" x2="986.75" y2="538.98" stroke="#000" stroke-width="2.2" />
<line x1="987.22" y1="538.98" x2="987.22" y2="539.63" stroke="#000" stroke-width="2.2" />
<line x1="981.62" y1="538.98" x2="992.82" y2="538.98" stroke="#000" stroke-width="2.2" />
<line x1="993.3" y1="538.98" x2="993.3" y2="539.63" stroke="#000" stroke-width="2.2" />
<line x1="987.7" y1="538.98" x2="998.9" y2="538.98" stroke="#000" stroke-width="2.2" />
<line x1="999.37" y1="538.98" x2="999.37" y2="539.63" stroke="#000" stroke-width="2.2" />
<line x1="993.77" y1="538.98" x2="1004.97" y2="538.98" stroke="#000" stroke-width="2.2" />
<line x1="1005.44" y1="538.98" x2="1005.44" y2="539.63" stroke="#000" stroke-width="2.2" />
<line x1="999.84" y1="538.98" x2="1011.04" y2="538.98" stroke="#000" stroke-width="2.2" />
<line x1="1011.52" y1="538.98" x2="1011.52" y2="539.63" stroke="#000" stroke-width="2.2" />
<line x1="1005.92" y1="538.98" x2="1017.12" y2="538.98" stroke="#000" stroke-width="2.2" />
<line x1="1017.59" y1="538.98" x2="1017.59" y2="539.63" stroke="#000" stroke-width="2.2" />
<line x1="1011.99" y1="538.98" x2="1023.19" y2="538.98" stroke="#000" stroke-width="2.2" />
<line x1="1023.66" y1="538.98" x2="1023.66" y2="539.63" stroke="#000" stroke-width="2.2" />
<line x1="1018.06" y1="538.98" x2="1029.26" y2="538.98" stroke="#000" stroke-width="2.2" />
<polyline fill="none" stroke="#000" stroke-width="2.8" stroke-linejoin="round" points="756.44,539.5 762.51,539.34 768.58,538.85 774.66,535.9 780.73,521.83 786.8,492.38 792.88,471.44 798.95,453.12 805.02,444.94 811.1,441.01 817.17,439.38 823.24,442.65 829.32,444.94 835.39,452.63 841.46,460.32 847.54,468.33 853.61,477.33 859.68,486.82 865.76,496.15 871.83,506.45 877.9,514.47 883.98,522.49 890.05,528.54 896.12,532.96 902.2,535.74 908.27,537.37 914.34,538.19 920.42,538.68 926.49,539.01 932.56,539.3 938.64,539.3 944.71,539.3 950.78,539.3 956.86,539.3 962.93,539.3 969,539.3 975.08,539.3 981.15,539.3 987.22,539.3 993.3,539.3 999.37,539.3 1005.44,539.3 1011.52,539.3 1017.59,539.3 1023.66,539.3"/>
<circle cx="756.44" cy="539.5" r="3.4" fill="#000"/>
<circle cx="762.51" cy="539.34" r="3.4" fill="#000"/>
<circle cx="768.58" cy="538.85" r="3.4" fill="#000"/>
<circle cx="774.66" cy="535.9" r="3.4" fill="#000"/>
<circle cx="780.73" cy="521.83" r="3.4" fill="#000"/>
<circle cx="786.8" cy="492.38" r="3.4" fill="#000"/>
<circle cx="792.88" cy="471.44" r="3.4" fill="#000"/>
<circle cx="798.95" cy="453.12" r="3.4" fill="#000"/>
<circle cx="805.02" cy="444.94" r="3.4" fill="#000"/>
<circle cx="811.1" cy="441.01" r="3.4" fill="#000"/>
<circle cx="817.17" cy="439.38" r="3.4" fill="#000"/>
<circle cx="823.24" cy="442.65" r="3.4" fill="#000"/>
<circle cx="829.32" cy="444.94" r="3.4" fill="#000"/>
<circle cx="835.39" cy="452.63" r="3.4" fill="#000"/>
<circle cx="841.46" cy="460.32" r="3.4" fill="#000"/>
<circle cx="847.54" cy="468.33" r="3.4" fill="#000"/>
<circle cx="853.61" cy="477.33" r="3.4" fill="#000"/>
<circle cx="859.68" cy="486.82" r="3.4" fill="#000"/>
<circle cx="865.76" cy="496.15" r="3.4" fill="#000"/>
<circle cx="871.83" cy="506.45" r="3.4" fill="#000"/>
<circle cx="877.9" cy="514.47" r="3.4" fill="#000"/>
<circle cx="883.98" cy="522.49" r="3.4" fill="#000"/>
<circle cx="890.05" cy="528.54" r="3.4" fill="#000"/>
<circle cx="896.12" cy="532.96" r="3.4" fill="#000"/>
<circle cx="902.2" cy="535.74" r="3.4" fill="#000"/>
<circle cx="908.27" cy="537.37" r="3.4" fill="#000"/>
<circle cx="914.34" cy="538.19" r="3.4" fill="#000"/>
<circle cx="920.42" cy="538.68" r="3.4" fill="#000"/>
<circle cx="926.49" cy="539.01" r="3.4" fill="#000"/>
<circle cx="932.56" cy="539.3" r="3.4" fill="#000"/>
<circle cx="938.64" cy="539.3" r="3.4" fill="#000"/>
<circle cx="944.71" cy="539.3" r="3.4" fill="#000"/>
<circle cx="950.78" cy="539.3" r="3.4" fill="#000"/>
<circle cx="956.86" cy="539.3" r="3.4" fill="#000"/>
<circle cx="962.93" cy="539.3" r="3.4" fill="#000"/>
<circle cx="969" cy="539.3" r="3.4" fill="#000"/>
<circle cx="975.08" cy="539.3" r="3.4" fill="#000"/>
<circle cx="981.15" cy="539.3" r="3.4" fill="#000"/>
<circle cx="987.22" cy="539.3" r="3.4" fill="#000"/>
<circle cx="993.3" cy="539.3" r="3.4" fill="#000"/>
<circle cx="999.37" cy="539.3" r="3.4" fill="#000"/>
<circle cx="1005.44" cy="539.3" r="3.4" fill="#000"/>
<circle cx="1011.52" cy="539.3" r="3.4" fill="#000"/>
<circle cx="1017.59" cy="539.3" r="3.4" fill="#000"/>
<circle cx="1023.66" cy="539.3" r="3.4" fill="#000"/>
<line x1="911.31" y1="539.1" x2="1026.7" y2="539.1" stroke="#000" stroke-width="8.6" />
<line x1="899.16" y1="539.7" x2="914.34" y2="539.3" stroke="#000" stroke-width="6.5" />
<rect x="753.4" y="375.9" width="273.3" height="163.6" fill="none" stroke="#000" stroke-width="3.3"/>
<line x1="742.15" y1="539.5" x2="753.4" y2="539.5" stroke="#000" stroke-width="3.3" />
<text x="740.75" y="546.66" font-size="20" text-anchor="end" >0</text>
<line x1="742.15" y1="506.78" x2="753.4" y2="506.78" stroke="#000" stroke-width="3.3" />
<text x="740.75" y="513.94" font-size="20" text-anchor="end" >1000</text>
<line x1="742.15" y1="474.06" x2="753.4" y2="474.06" stroke="#000" stroke-width="3.3" />
<text x="740.75" y="481.22" font-size="20" text-anchor="end" >2000</text>
<line x1="742.15" y1="441.34" x2="753.4" y2="441.34" stroke="#000" stroke-width="3.3" />
<text x="740.75" y="448.5" font-size="20" text-anchor="end" >3000</text>
<line x1="742.15" y1="408.62" x2="753.4" y2="408.62" stroke="#000" stroke-width="3.3" />
<text x="740.75" y="415.78" font-size="20" text-anchor="end" >4000</text>
<line x1="742.15" y1="375.9" x2="753.4" y2="375.9" stroke="#000" stroke-width="3.3" />
<text x="740.75" y="383.06" font-size="20" text-anchor="end" >5000</text>
<line x1="753.4" y1="539.5" x2="753.4" y2="549.5" stroke="#000" stroke-width="3.3" />
<text x="753.4" y="568" font-size="20" text-anchor="middle" >0</text>
<line x1="844.5" y1="539.5" x2="844.5" y2="549.5" stroke="#000" stroke-width="3.3" />
<text x="844.5" y="568" font-size="20" text-anchor="middle" >30</text>
<line x1="935.6" y1="539.5" x2="935.6" y2="549.5" stroke="#000" stroke-width="3.3" />
<text x="935.6" y="568" font-size="20" text-anchor="middle" >60</text>
<line x1="1026.7" y1="539.5" x2="1026.7" y2="549.5" stroke="#000" stroke-width="3.3" />
<text x="1026.7" y="568" font-size="20" text-anchor="middle" >90</text>
<text x="890" y="365" font-size="18.4" text-anchor="middle" >flg22</text>
<line x1="880" y1="396" x2="911" y2="396" stroke="#000" stroke-width="2.3" />
<circle cx="895.6" cy="396" r="3.2" fill="#000"/>
<line x1="880" y1="416.7" x2="911" y2="416.7" stroke="#000" stroke-width="2.4" stroke-dasharray="2.4 2.6"/>
<rect x="889" y="411" width="13" height="11" fill="#fff"/>
<path d="M895.6,413.1 L898.93,419.4 L892.27,419.4 Z" fill="#fff" stroke="#000" stroke-width="2.2" stroke-linejoin="miter"/>
<text x="926.7" y="402" font-size="19" text-anchor="start" >GFP</text>
<text x="926.7" y="422" font-size="19" text-anchor="start" >GFP:XopX</text>
<line x1="756.44" y1="628.23" x2="756.44" y2="614.8" stroke="#000" stroke-width="2.2" />
<line x1="751.44" y1="614.8" x2="761.44" y2="614.8" stroke="#000" stroke-width="2.2" />
<line x1="762.51" y1="623.01" x2="762.51" y2="609.52" stroke="#000" stroke-width="2.2" />
<line x1="757.51" y1="609.52" x2="767.51" y2="609.52" stroke="#000" stroke-width="2.2" />
<line x1="768.58" y1="622.65" x2="768.58" y2="610.4" stroke="#000" stroke-width="2.2" />
<line x1="763.58" y1="610.4" x2="773.58" y2="610.4" stroke="#000" stroke-width="2.2" />
<line x1="774.66" y1="637.65" x2="774.66" y2="622.72" stroke="#000" stroke-width="2.2" />
<line x1="769.66" y1="622.72" x2="779.66" y2="622.72" stroke="#000" stroke-width="2.2" />
<line x1="780.73" y1="637.2" x2="780.73" y2="625.36" stroke="#000" stroke-width="2.2" />
<line x1="775.73" y1="625.36" x2="785.73" y2="625.36" stroke="#000" stroke-width="2.2" />
<line x1="786.8" y1="637.86" x2="786.8" y2="626.24" stroke="#000" stroke-width="2.2" />
<line x1="781.8" y1="626.24" x2="791.8" y2="626.24" stroke="#000" stroke-width="2.2" />
<line x1="792.88" y1="620.32" x2="792.88" y2="606" stroke="#000" stroke-width="2.2" />
<line x1="787.88" y1="606" x2="797.88" y2="606" stroke="#000" stroke-width="2.2" />
<line x1="798.95" y1="621.91" x2="798.95" y2="610.4" stroke="#000" stroke-width="2.2" />
<line x1="793.95" y1="610.4" x2="803.95" y2="610.4" stroke="#000" stroke-width="2.2" />
<line x1="805.02" y1="625.32" x2="805.02" y2="613.04" stroke="#000" stroke-width="2.2" />
<line x1="800.02" y1="613.04" x2="810.02" y2="613.04" stroke="#000" stroke-width="2.2" />
<line x1="811.1" y1="627.4" x2="811.1" y2="613.92" stroke="#000" stroke-width="2.2" />
<line x1="806.1" y1="613.92" x2="816.1" y2="613.92" stroke="#000" stroke-width="2.2" />
<line x1="817.17" y1="624.12" x2="817.17" y2="610.4" stroke="#000" stroke-width="2.2" />
<line x1="812.17" y1="610.4" x2="822.17" y2="610.4" stroke="#000" stroke-width="2.2" />
<line x1="823.24" y1="630.03" x2="823.24" y2="615.68" stroke="#000" stroke-width="2.2" />
<line x1="818.24" y1="615.68" x2="828.24" y2="615.68" stroke="#000" stroke-width="2.2" />
<line x1="829.32" y1="633.27" x2="829.32" y2="617.44" stroke="#000" stroke-width="2.2" />
<line x1="824.32" y1="617.44" x2="834.32" y2="617.44" stroke="#000" stroke-width="2.2" />
<line x1="835.39" y1="626.71" x2="835.39" y2="612.16" stroke="#000" stroke-width="2.2" />
<line x1="830.39" y1="612.16" x2="840.39" y2="612.16" stroke="#000" stroke-width="2.2" />
<line x1="841.46" y1="621.35" x2="841.46" y2="608.64" stroke="#000" stroke-width="2.2" />
<line x1="836.46" y1="608.64" x2="846.46" y2="608.64" stroke="#000" stroke-width="2.2" />
<line x1="847.54" y1="624.48" x2="847.54" y2="611.28" stroke="#000" stroke-width="2.2" />
<line x1="842.54" y1="611.28" x2="852.54" y2="611.28" stroke="#000" stroke-width="2.2" />
<line x1="853.61" y1="629.58" x2="853.61" y2="613.92" stroke="#000" stroke-width="2.2" />
<line x1="848.61" y1="613.92" x2="858.61" y2="613.92" stroke="#000" stroke-width="2.2" />
<line x1="859.68" y1="632.44" x2="859.68" y2="620.08" stroke="#000" stroke-width="2.2" />
<line x1="854.68" y1="620.08" x2="864.68" y2="620.08" stroke="#000" stroke-width="2.2" />
<line x1="865.76" y1="621.75" x2="865.76" y2="606" stroke="#000" stroke-width="2.2" />
<line x1="860.76" y1="606" x2="870.76" y2="606" stroke="#000" stroke-width="2.2" />
<line x1="871.83" y1="631.65" x2="871.83" y2="617.44" stroke="#000" stroke-width="2.2" />
<line x1="866.83" y1="617.44" x2="876.83" y2="617.44" stroke="#000" stroke-width="2.2" />
<line x1="877.9" y1="628.38" x2="877.9" y2="616.56" stroke="#000" stroke-width="2.2" />
<line x1="872.9" y1="616.56" x2="882.9" y2="616.56" stroke="#000" stroke-width="2.2" />
<line x1="883.98" y1="629.58" x2="883.98" y2="614.8" stroke="#000" stroke-width="2.2" />
<line x1="878.98" y1="614.8" x2="888.98" y2="614.8" stroke="#000" stroke-width="2.2" />
<line x1="890.05" y1="625.8" x2="890.05" y2="613.92" stroke="#000" stroke-width="2.2" />
<line x1="885.05" y1="613.92" x2="895.05" y2="613.92" stroke="#000" stroke-width="2.2" />
<line x1="896.12" y1="636.7" x2="896.12" y2="624.48" stroke="#000" stroke-width="2.2" />
<line x1="891.12" y1="624.48" x2="901.12" y2="624.48" stroke="#000" stroke-width="2.2" />
<line x1="902.2" y1="635.88" x2="902.2" y2="623.6" stroke="#000" stroke-width="2.2" />
<line x1="897.2" y1="623.6" x2="907.2" y2="623.6" stroke="#000" stroke-width="2.2" />
<line x1="908.27" y1="631.71" x2="908.27" y2="617.44" stroke="#000" stroke-width="2.2" />
<line x1="903.27" y1="617.44" x2="913.27" y2="617.44" stroke="#000" stroke-width="2.2" />
<line x1="914.34" y1="635.98" x2="914.34" y2="623.6" stroke="#000" stroke-width="2.2" />
<line x1="909.34" y1="623.6" x2="919.34" y2="623.6" stroke="#000" stroke-width="2.2" />
<line x1="920.42" y1="640.34" x2="920.42" y2="625.36" stroke="#000" stroke-width="2.2" />
<line x1="915.42" y1="625.36" x2="925.42" y2="625.36" stroke="#000" stroke-width="2.2" />
<line x1="926.49" y1="634.21" x2="926.49" y2="621.84" stroke="#000" stroke-width="2.2" />
<line x1="921.49" y1="621.84" x2="931.49" y2="621.84" stroke="#000" stroke-width="2.2" />
<line x1="932.56" y1="636.1" x2="932.56" y2="621.84" stroke="#000" stroke-width="2.2" />
<line x1="927.56" y1="621.84" x2="937.56" y2="621.84" stroke="#000" stroke-width="2.2" />
<line x1="938.64" y1="634.22" x2="938.64" y2="621.84" stroke="#000" stroke-width="2.2" />
<line x1="933.64" y1="621.84" x2="943.64" y2="621.84" stroke="#000" stroke-width="2.2" />
<line x1="944.71" y1="639.13" x2="944.71" y2="626.24" stroke="#000" stroke-width="2.2" />
<line x1="939.71" y1="626.24" x2="949.71" y2="626.24" stroke="#000" stroke-width="2.2" />
<line x1="950.78" y1="638.08" x2="950.78" y2="626.24" stroke="#000" stroke-width="2.2" />
<line x1="945.78" y1="626.24" x2="955.78" y2="626.24" stroke="#000" stroke-width="2.2" />
<line x1="956.86" y1="638.57" x2="956.86" y2="624.48" stroke="#000" stroke-width="2.2" />
<line x1="951.86" y1="624.48" x2="961.86" y2="624.48" stroke="#000" stroke-width="2.2" />
<line x1="962.93" y1="639.26" x2="962.93" y2="623.6" stroke="#000" stroke-width="2.2" />
<line x1="957.93" y1="623.6" x2="967.93" y2="623.6" stroke="#000" stroke-width="2.2" />
<line x1="969" y1="637.97" x2="969" y2="622.72" stroke="#000" stroke-width="2.2" />
<line x1="964" y1="622.72" x2="974" y2="622.72" stroke="#000" stroke-width="2.2" />
<line x1="975.08" y1="638.16" x2="975.08" y2="622.72" stroke="#000" stroke-width="2.2" />
<line x1="970.08" y1="622.72" x2="980.08" y2="622.72" stroke="#000" stroke-width="2.2" />
<line x1="981.15" y1="634.12" x2="981.15" y2="621.84" stroke="#000" stroke-width="2.2" />
<line x1="976.15" y1="621.84" x2="986.15" y2="621.84" stroke="#000" stroke-width="2.2" />
<line x1="987.22" y1="631.5" x2="987.22" y2="619.2" stroke="#000" stroke-width="2.2" />
<line x1="982.22" y1="619.2" x2="992.22" y2="619.2" stroke="#000" stroke-width="2.2" />
<line x1="993.3" y1="632.42" x2="993.3" y2="618.32" stroke="#000" stroke-width="2.2" />
<line x1="988.3" y1="618.32" x2="998.3" y2="618.32" stroke="#000" stroke-width="2.2" />
<line x1="999.37" y1="640.49" x2="999.37" y2="628.88" stroke="#000" stroke-width="2.2" />
<line x1="994.37" y1="628.88" x2="1004.37" y2="628.88" stroke="#000" stroke-width="2.2" />
<line x1="1005.44" y1="638.14" x2="1005.44" y2="623.6" stroke="#000" stroke-width="2.2" />
<line x1="1000.44" y1="623.6" x2="1010.44" y2="623.6" stroke="#000" stroke-width="2.2" />
<line x1="1011.52" y1="640.3" x2="1011.52" y2="626.24" stroke="#000" stroke-width="2.2" />
<line x1="1006.52" y1="626.24" x2="1016.52" y2="626.24" stroke="#000" stroke-width="2.2" />
<line x1="1017.59" y1="641.73" x2="1017.59" y2="627.12" stroke="#000" stroke-width="2.2" />
<line x1="1012.59" y1="627.12" x2="1022.59" y2="627.12" stroke="#000" stroke-width="2.2" />
<line x1="1023.66" y1="639.26" x2="1023.66" y2="625.36" stroke="#000" stroke-width="2.2" />
<line x1="1018.66" y1="625.36" x2="1028.66" y2="625.36" stroke="#000" stroke-width="2.2" />
<polyline fill="none" stroke="#000" stroke-width="2" stroke-dasharray="2.2 2.4" points="756.44,628.23 762.51,623.01 768.58,622.65 774.66,637.65 780.73,637.2 786.8,637.86 792.88,620.32 798.95,621.91 805.02,625.32 811.1,627.4 817.17,624.12 823.24,630.03 829.32,633.27 835.39,626.71 841.46,621.35 847.54,624.48 853.61,629.58 859.68,632.44 865.76,621.75 871.83,631.65 877.9,628.38 883.98,629.58 890.05,625.8 896.12,636.7 902.2,635.88 908.27,631.71 914.34,635.98 920.42,640.34 926.49,634.21 932.56,636.1 938.64,634.22 944.71,639.13 950.78,638.08 956.86,638.57 962.93,639.26 969,637.97 975.08,638.16 981.15,634.12 987.22,631.5 993.3,632.42 999.37,640.49 1005.44,638.14 1011.52,640.3 1017.59,641.73 1023.66,639.26"/>
<path d="M756.44,624.13 L760.33,631.51 L752.54,631.51 Z" fill="#fff" stroke="#000" stroke-width="2.0" stroke-linejoin="miter"/>
<path d="M762.51,618.91 L766.4,626.29 L758.62,626.29 Z" fill="#fff" stroke="#000" stroke-width="2.0" stroke-linejoin="miter"/>
<path d="M768.58,618.55 L772.48,625.93 L764.69,625.93 Z" fill="#fff" stroke="#000" stroke-width="2.0" stroke-linejoin="miter"/>
<path d="M774.66,633.55 L778.55,640.93 L770.76,640.93 Z" fill="#fff" stroke="#000" stroke-width="2.0" stroke-linejoin="miter"/>
<path d="M780.73,633.1 L784.62,640.48 L776.84,640.48 Z" fill="#fff" stroke="#000" stroke-width="2.0" stroke-linejoin="miter"/>
<path d="M786.8,633.76 L790.7,641.14 L782.91,641.14 Z" fill="#fff" stroke="#000" stroke-width="2.0" stroke-linejoin="miter"/>
<path d="M792.88,616.22 L796.77,623.6 L788.98,623.6 Z" fill="#fff" stroke="#000" stroke-width="2.0" stroke-linejoin="miter"/>
<path d="M798.95,617.81 L802.85,625.19 L795.06,625.19 Z" fill="#fff" stroke="#000" stroke-width="2.0" stroke-linejoin="miter"/>
<path d="M805.02,621.22 L808.92,628.6 L801.13,628.6 Z" fill="#fff" stroke="#000" stroke-width="2.0" stroke-linejoin="miter"/>
<path d="M811.1,623.3 L814.99,630.68 L807.2,630.68 Z" fill="#fff" stroke="#000" stroke-width="2.0" stroke-linejoin="miter"/>
<path d="M817.17,620.02 L821.06,627.4 L813.27,627.4 Z" fill="#fff" stroke="#000" stroke-width="2.0" stroke-linejoin="miter"/>
<path d="M823.24,625.93 L827.14,633.31 L819.35,633.31 Z" fill="#fff" stroke="#000" stroke-width="2.0" stroke-linejoin="miter"/>
<path d="M829.32,629.17 L833.21,636.55 L825.42,636.55 Z" fill="#fff" stroke="#000" stroke-width="2.0" stroke-linejoin="miter"/>
<path d="M835.39,622.61 L839.28,629.99 L831.5,629.99 Z" fill="#fff" stroke="#000" stroke-width="2.0" stroke-linejoin="miter"/>
<path d="M841.46,617.25 L845.36,624.63 L837.57,624.63 Z" fill="#fff" stroke="#000" stroke-width="2.0" stroke-linejoin="miter"/>
<path d="M847.54,620.38 L851.43,627.76 L843.64,627.76 Z" fill="#fff" stroke="#000" stroke-width="2.0" stroke-linejoin="miter"/>
<path d="M853.61,625.48 L857.5,632.86 L849.72,632.86 Z" fill="#fff" stroke="#000" stroke-width="2.0" stroke-linejoin="miter"/>
<path d="M859.68,628.34 L863.58,635.72 L855.79,635.72 Z" fill="#fff" stroke="#000" stroke-width="2.0" stroke-linejoin="miter"/>
<path d="M865.76,617.65 L869.65,625.03 L861.86,625.03 Z" fill="#fff" stroke="#000" stroke-width="2.0" stroke-linejoin="miter"/>
<path d="M871.83,627.55 L875.73,634.93 L867.94,634.93 Z" fill="#fff" stroke="#000" stroke-width="2.0" stroke-linejoin="miter"/>
<path d="M877.9,624.28 L881.8,631.66 L874.01,631.66 Z" fill="#fff" stroke="#000" stroke-width="2.0" stroke-linejoin="miter"/>
<path d="M883.98,625.48 L887.87,632.86 L880.08,632.86 Z" fill="#fff" stroke="#000" stroke-width="2.0" stroke-linejoin="miter"/>
<path d="M890.05,621.7 L893.94,629.08 L886.15,629.08 Z" fill="#fff" stroke="#000" stroke-width="2.0" stroke-linejoin="miter"/>
<path d="M896.12,632.6 L900.02,639.98 L892.23,639.98 Z" fill="#fff" stroke="#000" stroke-width="2.0" stroke-linejoin="miter"/>
<path d="M902.2,631.78 L906.09,639.16 L898.3,639.16 Z" fill="#fff" stroke="#000" stroke-width="2.0" stroke-linejoin="miter"/>
<path d="M908.27,627.61 L912.16,634.99 L904.38,634.99 Z" fill="#fff" stroke="#000" stroke-width="2.0" stroke-linejoin="miter"/>
<path d="M914.34,631.88 L918.24,639.26 L910.45,639.26 Z" fill="#fff" stroke="#000" stroke-width="2.0" stroke-linejoin="miter"/>
<path d="M920.42,636.24 L924.31,643.62 L916.52,643.62 Z" fill="#fff" stroke="#000" stroke-width="2.0" stroke-linejoin="miter"/>
<path d="M926.49,630.11 L930.38,637.49 L922.6,637.49 Z" fill="#fff" stroke="#000" stroke-width="2.0" stroke-linejoin="miter"/>
<path d="M932.56,632 L936.46,639.38 L928.67,639.38 Z" fill="#fff" stroke="#000" stroke-width="2.0" stroke-linejoin="miter"/>
<path d="M938.64,630.12 L942.53,637.5 L934.74,637.5 Z" fill="#fff" stroke="#000" stroke-width="2.0" stroke-linejoin="miter"/>
<path d="M944.71,635.03 L948.61,642.41 L940.82,642.41 Z" fill="#fff" stroke="#000" stroke-width="2.0" stroke-linejoin="miter"/>
<path d="M950.78,633.98 L954.68,641.36 L946.89,641.36 Z" fill="#fff" stroke="#000" stroke-width="2.0" stroke-linejoin="miter"/>
<path d="M956.86,634.47 L960.75,641.85 L952.96,641.85 Z" fill="#fff" stroke="#000" stroke-width="2.0" stroke-linejoin="miter"/>
<path d="M962.93,635.16 L966.83,642.54 L959.04,642.54 Z" fill="#fff" stroke="#000" stroke-width="2.0" stroke-linejoin="miter"/>
<path d="M969,633.87 L972.9,641.25 L965.11,641.25 Z" fill="#fff" stroke="#000" stroke-width="2.0" stroke-linejoin="miter"/>
<path d="M975.08,634.06 L978.97,641.44 L971.18,641.44 Z" fill="#fff" stroke="#000" stroke-width="2.0" stroke-linejoin="miter"/>
<path d="M981.15,630.02 L985.05,637.4 L977.26,637.4 Z" fill="#fff" stroke="#000" stroke-width="2.0" stroke-linejoin="miter"/>
<path d="M987.22,627.4 L991.12,634.78 L983.33,634.78 Z" fill="#fff" stroke="#000" stroke-width="2.0" stroke-linejoin="miter"/>
<path d="M993.3,628.32 L997.19,635.7 L989.4,635.7 Z" fill="#fff" stroke="#000" stroke-width="2.0" stroke-linejoin="miter"/>
<path d="M999.37,636.39 L1003.26,643.77 L995.48,643.77 Z" fill="#fff" stroke="#000" stroke-width="2.0" stroke-linejoin="miter"/>
<path d="M1005.44,634.04 L1009.34,641.42 L1001.55,641.42 Z" fill="#fff" stroke="#000" stroke-width="2.0" stroke-linejoin="miter"/>
<path d="M1011.52,636.2 L1015.41,643.58 L1007.62,643.58 Z" fill="#fff" stroke="#000" stroke-width="2.0" stroke-linejoin="miter"/>
<path d="M1017.59,637.63 L1021.49,645.01 L1013.7,645.01 Z" fill="#fff" stroke="#000" stroke-width="2.0" stroke-linejoin="miter"/>
<path d="M1023.66,635.16 L1027.56,642.54 L1019.77,642.54 Z" fill="#fff" stroke="#000" stroke-width="2.0" stroke-linejoin="miter"/>
<line x1="756.44" y1="619.47" x2="756.44" y2="634.77" stroke="#000" stroke-width="2.2" />
<line x1="751.44" y1="634.77" x2="761.44" y2="634.77" stroke="#000" stroke-width="2.2" />
<line x1="751.44" y1="619.47" x2="761.44" y2="619.47" stroke="#000" stroke-width="2.2" />
<line x1="762.51" y1="633.79" x2="762.51" y2="646.73" stroke="#000" stroke-width="2.2" />
<line x1="757.51" y1="646.73" x2="767.51" y2="646.73" stroke="#000" stroke-width="2.2" />
<line x1="757.51" y1="633.79" x2="767.51" y2="633.79" stroke="#000" stroke-width="2.2" />
<line x1="768.58" y1="633.61" x2="768.58" y2="646.84" stroke="#000" stroke-width="2.2" />
<line x1="763.58" y1="646.84" x2="773.58" y2="646.84" stroke="#000" stroke-width="2.2" />
<line x1="763.58" y1="633.61" x2="773.58" y2="633.61" stroke="#000" stroke-width="2.2" />
<line x1="774.66" y1="638.07" x2="774.66" y2="649" stroke="#000" stroke-width="2.2" />
<line x1="769.66" y1="649" x2="779.66" y2="649" stroke="#000" stroke-width="2.2" />
<line x1="769.66" y1="638.07" x2="779.66" y2="638.07" stroke="#000" stroke-width="2.2" />
<line x1="780.73" y1="631.03" x2="780.73" y2="644.71" stroke="#000" stroke-width="2.2" />
<line x1="775.73" y1="644.71" x2="785.73" y2="644.71" stroke="#000" stroke-width="2.2" />
<line x1="775.73" y1="631.03" x2="785.73" y2="631.03" stroke="#000" stroke-width="2.2" />
<line x1="786.8" y1="628.71" x2="786.8" y2="644.3" stroke="#000" stroke-width="2.2" />
<line x1="781.8" y1="644.3" x2="791.8" y2="644.3" stroke="#000" stroke-width="2.2" />
<line x1="781.8" y1="628.71" x2="791.8" y2="628.71" stroke="#000" stroke-width="2.2" />
<line x1="792.88" y1="634.45" x2="792.88" y2="644.36" stroke="#000" stroke-width="2.2" />
<line x1="787.88" y1="644.36" x2="797.88" y2="644.36" stroke="#000" stroke-width="2.2" />
<line x1="787.88" y1="634.45" x2="797.88" y2="634.45" stroke="#000" stroke-width="2.2" />
<line x1="798.95" y1="635.49" x2="798.95" y2="644.7" stroke="#000" stroke-width="2.2" />
<line x1="793.95" y1="644.7" x2="803.95" y2="644.7" stroke="#000" stroke-width="2.2" />
<line x1="793.95" y1="635.49" x2="803.95" y2="635.49" stroke="#000" stroke-width="2.2" />
<line x1="805.02" y1="637.86" x2="805.02" y2="646.87" stroke="#000" stroke-width="2.2" />
<line x1="800.02" y1="646.87" x2="810.02" y2="646.87" stroke="#000" stroke-width="2.2" />
<line x1="800.02" y1="637.86" x2="810.02" y2="637.86" stroke="#000" stroke-width="2.2" />
<line x1="811.1" y1="633.43" x2="811.1" y2="648.16" stroke="#000" stroke-width="2.2" />
<line x1="806.1" y1="648.16" x2="816.1" y2="648.16" stroke="#000" stroke-width="2.2" />
<line x1="806.1" y1="633.43" x2="816.1" y2="633.43" stroke="#000" stroke-width="2.2" />
<line x1="817.17" y1="633.05" x2="817.17" y2="645.37" stroke="#000" stroke-width="2.2" />
<line x1="812.17" y1="645.37" x2="822.17" y2="645.37" stroke="#000" stroke-width="2.2" />
<line x1="812.17" y1="633.05" x2="822.17" y2="633.05" stroke="#000" stroke-width="2.2" />
<line x1="823.24" y1="635.28" x2="823.24" y2="646.04" stroke="#000" stroke-width="2.2" />
<line x1="818.24" y1="646.04" x2="828.24" y2="646.04" stroke="#000" stroke-width="2.2" />
<line x1="818.24" y1="635.28" x2="828.24" y2="635.28" stroke="#000" stroke-width="2.2" />
<line x1="829.32" y1="629.04" x2="829.32" y2="643.75" stroke="#000" stroke-width="2.2" />
<line x1="824.32" y1="643.75" x2="834.32" y2="643.75" stroke="#000" stroke-width="2.2" />
<line x1="824.32" y1="629.04" x2="834.32" y2="629.04" stroke="#000" stroke-width="2.2" />
<line x1="835.39" y1="636.57" x2="835.39" y2="646.99" stroke="#000" stroke-width="2.2" />
<line x1="830.39" y1="646.99" x2="840.39" y2="646.99" stroke="#000" stroke-width="2.2" />
<line x1="830.39" y1="636.57" x2="840.39" y2="636.57" stroke="#000" stroke-width="2.2" />
<line x1="841.46" y1="636.63" x2="841.46" y2="649.56" stroke="#000" stroke-width="2.2" />
<line x1="836.46" y1="649.56" x2="846.46" y2="649.56" stroke="#000" stroke-width="2.2" />
<line x1="836.46" y1="636.63" x2="846.46" y2="636.63" stroke="#000" stroke-width="2.2" />
<line x1="847.54" y1="631.81" x2="847.54" y2="643.34" stroke="#000" stroke-width="2.2" />
<line x1="842.54" y1="643.34" x2="852.54" y2="643.34" stroke="#000" stroke-width="2.2" />
<line x1="842.54" y1="631.81" x2="852.54" y2="631.81" stroke="#000" stroke-width="2.2" />
<line x1="853.61" y1="633.17" x2="853.61" y2="641.97" stroke="#000" stroke-width="2.2" />
<line x1="848.61" y1="641.97" x2="858.61" y2="641.97" stroke="#000" stroke-width="2.2" />
<line x1="848.61" y1="633.17" x2="858.61" y2="633.17" stroke="#000" stroke-width="2.2" />
<line x1="859.68" y1="631.02" x2="859.68" y2="643.13" stroke="#000" stroke-width="2.2" />
<line x1="854.68" y1="643.13" x2="864.68" y2="643.13" stroke="#000" stroke-width="2.2" />
<line x1="854.68" y1="631.02" x2="864.68" y2="631.02" stroke="#000" stroke-width="2.2" />
<line x1="865.76" y1="636.48" x2="865.76" y2="645.79" stroke="#000" stroke-width="2.2" />
<line x1="860.76" y1="645.79" x2="870.76" y2="645.79" stroke="#000" stroke-width="2.2" />
<line x1="860.76" y1="636.48" x2="870.76" y2="636.48" stroke="#000" stroke-width="2.2" />
<line x1="871.83" y1="632.76" x2="871.83" y2="643.46" stroke="#000" stroke-width="2.2" />
<line x1="866.83" y1="643.46" x2="876.83" y2="643.46" stroke="#000" stroke-width="2.2" />
<line x1="866.83" y1="632.76" x2="876.83" y2="632.76" stroke="#000" stroke-width="2.2" />
<line x1="877.9" y1="633.85" x2="877.9" y2="649.44" stroke="#000" stroke-width="2.2" />
<line x1="872.9" y1="649.44" x2="882.9" y2="649.44" stroke="#000" stroke-width="2.2" />
<line x1="872.9" y1="633.85" x2="882.9" y2="633.85" stroke="#000" stroke-width="2.2" />
<line x1="883.98" y1="638.08" x2="883.98" y2="648.61" stroke="#000" stroke-width="2.2" />
<line x1="878.98" y1="648.61" x2="888.98" y2="648.61" stroke="#000" stroke-width="2.2" />
<line x1="878.98" y1="638.08" x2="888.98" y2="638.08" stroke="#000" stroke-width="2.2" />
<line x1="890.05" y1="639.24" x2="890.05" y2="649.56" stroke="#000" stroke-width="2.2" />
<line x1="885.05" y1="649.56" x2="895.05" y2="649.56" stroke="#000" stroke-width="2.2" />
<line x1="885.05" y1="639.24" x2="895.05" y2="639.24" stroke="#000" stroke-width="2.2" />
<line x1="896.12" y1="636.52" x2="896.12" y2="648.47" stroke="#000" stroke-width="2.2" />
<line x1="891.12" y1="648.47" x2="901.12" y2="648.47" stroke="#000" stroke-width="2.2" />
<line x1="891.12" y1="636.52" x2="901.12" y2="636.52" stroke="#000" stroke-width="2.2" />
<line x1="902.2" y1="636.26" x2="902.2" y2="645.98" stroke="#000" stroke-width="2.2" />
<line x1="897.2" y1="645.98" x2="907.2" y2="645.98" stroke="#000" stroke-width="2.2" />
<line x1="897.2" y1="636.26" x2="907.2" y2="636.26" stroke="#000" stroke-width="2.2" />
<line x1="908.27" y1="640.12" x2="908.27" y2="649.56" stroke="#000" stroke-width="2.2" />
<line x1="903.27" y1="649.56" x2="913.27" y2="649.56" stroke="#000" stroke-width="2.2" />
<line x1="903.27" y1="640.12" x2="913.27" y2="640.12" stroke="#000" stroke-width="2.2" />
<line x1="914.34" y1="636.97" x2="914.34" y2="649.56" stroke="#000" stroke-width="2.2" />
<line x1="909.34" y1="649.56" x2="919.34" y2="649.56" stroke="#000" stroke-width="2.2" />
<line x1="909.34" y1="636.97" x2="919.34" y2="636.97" stroke="#000" stroke-width="2.2" />
<line x1="920.42" y1="637" x2="920.42" y2="649.56" stroke="#000" stroke-width="2.2" />
<line x1="915.42" y1="649.56" x2="925.42" y2="649.56" stroke="#000" stroke-width="2.2" />
<line x1="915.42" y1="637" x2="925.42" y2="637" stroke="#000" stroke-width="2.2" />
<line x1="926.49" y1="636.39" x2="926.49" y2="649.56" stroke="#000" stroke-width="2.2" />
<line x1="921.49" y1="649.56" x2="931.49" y2="649.56" stroke="#000" stroke-width="2.2" />
<line x1="921.49" y1="636.39" x2="931.49" y2="636.39" stroke="#000" stroke-width="2.2" />
<line x1="932.56" y1="638.24" x2="932.56" y2="649.56" stroke="#000" stroke-width="2.2" />
<line x1="927.56" y1="649.56" x2="937.56" y2="649.56" stroke="#000" stroke-width="2.2" />
<line x1="927.56" y1="638.24" x2="937.56" y2="638.24" stroke="#000" stroke-width="2.2" />
<line x1="938.64" y1="637.75" x2="938.64" y2="649.56" stroke="#000" stroke-width="2.2" />
<line x1="933.64" y1="649.56" x2="943.64" y2="649.56" stroke="#000" stroke-width="2.2" />
<line x1="933.64" y1="637.75" x2="943.64" y2="637.75" stroke="#000" stroke-width="2.2" />
<line x1="944.71" y1="639.91" x2="944.71" y2="649.23" stroke="#000" stroke-width="2.2" />
<line x1="939.71" y1="649.23" x2="949.71" y2="649.23" stroke="#000" stroke-width="2.2" />
<line x1="939.71" y1="639.91" x2="949.71" y2="639.91" stroke="#000" stroke-width="2.2" />
<line x1="950.78" y1="637.05" x2="950.78" y2="647.56" stroke="#000" stroke-width="2.2" />
<line x1="945.78" y1="647.56" x2="955.78" y2="647.56" stroke="#000" stroke-width="2.2" />
<line x1="945.78" y1="637.05" x2="955.78" y2="637.05" stroke="#000" stroke-width="2.2" />
<line x1="956.86" y1="637.98" x2="956.86" y2="649.56" stroke="#000" stroke-width="2.2" />
<line x1="951.86" y1="649.56" x2="961.86" y2="649.56" stroke="#000" stroke-width="2.2" />
<line x1="951.86" y1="637.98" x2="961.86" y2="637.98" stroke="#000" stroke-width="2.2" />
<line x1="962.93" y1="636.67" x2="962.93" y2="649.51" stroke="#000" stroke-width="2.2" />
<line x1="957.93" y1="649.51" x2="967.93" y2="649.51" stroke="#000" stroke-width="2.2" />
<line x1="957.93" y1="636.67" x2="967.93" y2="636.67" stroke="#000" stroke-width="2.2" />
<line x1="969" y1="640.53" x2="969" y2="649.56" stroke="#000" stroke-width="2.2" />
<line x1="964" y1="649.56" x2="974" y2="649.56" stroke="#000" stroke-width="2.2" />
<line x1="964" y1="640.53" x2="974" y2="640.53" stroke="#000" stroke-width="2.2" />
<line x1="975.08" y1="635.16" x2="975.08" y2="645.72" stroke="#000" stroke-width="2.2" />
<line x1="970.08" y1="645.72" x2="980.08" y2="645.72" stroke="#000" stroke-width="2.2" />
<line x1="970.08" y1="635.16" x2="980.08" y2="635.16" stroke="#000" stroke-width="2.2" />
<line x1="981.15" y1="633.35" x2="981.15" y2="648.77" stroke="#000" stroke-width="2.2" />
<line x1="976.15" y1="648.77" x2="986.15" y2="648.77" stroke="#000" stroke-width="2.2" />
<line x1="976.15" y1="633.35" x2="986.15" y2="633.35" stroke="#000" stroke-width="2.2" />
<line x1="987.22" y1="631.89" x2="987.22" y2="646.9" stroke="#000" stroke-width="2.2" />
<line x1="982.22" y1="646.9" x2="992.22" y2="646.9" stroke="#000" stroke-width="2.2" />
<line x1="982.22" y1="631.89" x2="992.22" y2="631.89" stroke="#000" stroke-width="2.2" />
<line x1="993.3" y1="638.82" x2="993.3" y2="648.35" stroke="#000" stroke-width="2.2" />
<line x1="988.3" y1="648.35" x2="998.3" y2="648.35" stroke="#000" stroke-width="2.2" />
<line x1="988.3" y1="638.82" x2="998.3" y2="638.82" stroke="#000" stroke-width="2.2" />
<line x1="999.37" y1="634.06" x2="999.37" y2="644.53" stroke="#000" stroke-width="2.2" />
<line x1="994.37" y1="644.53" x2="1004.37" y2="644.53" stroke="#000" stroke-width="2.2" />
<line x1="994.37" y1="634.06" x2="1004.37" y2="634.06" stroke="#000" stroke-width="2.2" />
<line x1="1005.44" y1="637.59" x2="1005.44" y2="649.56" stroke="#000" stroke-width="2.2" />
<line x1="1000.44" y1="649.56" x2="1010.44" y2="649.56" stroke="#000" stroke-width="2.2" />
<line x1="1000.44" y1="637.59" x2="1010.44" y2="637.59" stroke="#000" stroke-width="2.2" />
<line x1="1011.52" y1="639.58" x2="1011.52" y2="649.56" stroke="#000" stroke-width="2.2" />
<line x1="1006.52" y1="649.56" x2="1016.52" y2="649.56" stroke="#000" stroke-width="2.2" />
<line x1="1006.52" y1="639.58" x2="1016.52" y2="639.58" stroke="#000" stroke-width="2.2" />
<line x1="1017.59" y1="641.17" x2="1017.59" y2="649.56" stroke="#000" stroke-width="2.2" />
<line x1="1012.59" y1="649.56" x2="1022.59" y2="649.56" stroke="#000" stroke-width="2.2" />
<line x1="1012.59" y1="641.17" x2="1022.59" y2="641.17" stroke="#000" stroke-width="2.2" />
<line x1="1023.66" y1="633.61" x2="1023.66" y2="646.73" stroke="#000" stroke-width="2.2" />
<line x1="1018.66" y1="646.73" x2="1028.66" y2="646.73" stroke="#000" stroke-width="2.2" />
<line x1="1018.66" y1="633.61" x2="1028.66" y2="633.61" stroke="#000" stroke-width="2.2" />
<polyline fill="none" stroke="#000" stroke-width="2.6" stroke-linejoin="round" points="756.44,627.12 762.51,640.26 768.58,640.23 774.66,643.53 780.73,637.87 786.8,636.5 792.88,639.4 798.95,640.1 805.02,642.36 811.1,640.79 817.17,639.21 823.24,640.66 829.32,636.39 835.39,641.78 841.46,643.72 847.54,637.58 853.61,637.57 859.68,637.07 865.76,641.13 871.83,638.11 877.9,641.65 883.98,643.35 890.05,646.45 896.12,642.49 902.2,641.12 908.27,646 914.34,644.78 920.42,644.51 926.49,643.8 932.56,646.13 938.64,644.87 944.71,644.57 950.78,642.3 956.86,643.98 962.93,643.09 969,645.47 975.08,640.44 981.15,641.06 987.22,639.39 993.3,643.58 999.37,639.3 1005.44,644.88 1011.52,644.6 1017.59,646.38 1023.66,640.17"/>
<circle cx="756.44" cy="627.12" r="3.6" fill="#000"/>
<circle cx="762.51" cy="640.26" r="3.6" fill="#000"/>
<circle cx="768.58" cy="640.23" r="3.6" fill="#000"/>
<circle cx="774.66" cy="643.53" r="3.6" fill="#000"/>
<circle cx="780.73" cy="637.87" r="3.6" fill="#000"/>
<circle cx="786.8" cy="636.5" r="3.6" fill="#000"/>
<circle cx="792.88" cy="639.4" r="3.6" fill="#000"/>
<circle cx="798.95" cy="640.1" r="3.6" fill="#000"/>
<circle cx="805.02" cy="642.36" r="3.6" fill="#000"/>
<circle cx="811.1" cy="640.79" r="3.6" fill="#000"/>
<circle cx="817.17" cy="639.21" r="3.6" fill="#000"/>
<circle cx="823.24" cy="640.66" r="3.6" fill="#000"/>
<circle cx="829.32" cy="636.39" r="3.6" fill="#000"/>
<circle cx="835.39" cy="641.78" r="3.6" fill="#000"/>
<circle cx="841.46" cy="643.72" r="3.6" fill="#000"/>
<circle cx="847.54" cy="637.58" r="3.6" fill="#000"/>
<circle cx="853.61" cy="637.57" r="3.6" fill="#000"/>
<circle cx="859.68" cy="637.07" r="3.6" fill="#000"/>
<circle cx="865.76" cy="641.13" r="3.6" fill="#000"/>
<circle cx="871.83" cy="638.11" r="3.6" fill="#000"/>
<circle cx="877.9" cy="641.65" r="3.6" fill="#000"/>
<circle cx="883.98" cy="643.35" r="3.6" fill="#000"/>
<circle cx="890.05" cy="646.45" r="3.6" fill="#000"/>
<circle cx="896.12" cy="642.49" r="3.6" fill="#000"/>
<circle cx="902.2" cy="641.12" r="3.6" fill="#000"/>
<circle cx="908.27" cy="646" r="3.6" fill="#000"/>
<circle cx="914.34" cy="644.78" r="3.6" fill="#000"/>
<circle cx="920.42" cy="644.51" r="3.6" fill="#000"/>
<circle cx="926.49" cy="643.8" r="3.6" fill="#000"/>
<circle cx="932.56" cy="646.13" r="3.6" fill="#000"/>
<circle cx="938.64" cy="644.87" r="3.6" fill="#000"/>
<circle cx="944.71" cy="644.57" r="3.6" fill="#000"/>
<circle cx="950.78" cy="642.3" r="3.6" fill="#000"/>
<circle cx="956.86" cy="643.98" r="3.6" fill="#000"/>
<circle cx="962.93" cy="643.09" r="3.6" fill="#000"/>
<circle cx="969" cy="645.47" r="3.6" fill="#000"/>
<circle cx="975.08" cy="640.44" r="3.6" fill="#000"/>
<circle cx="981.15" cy="641.06" r="3.6" fill="#000"/>
<circle cx="987.22" cy="639.39" r="3.6" fill="#000"/>
<circle cx="993.3" cy="643.58" r="3.6" fill="#000"/>
<circle cx="999.37" cy="639.3" r="3.6" fill="#000"/>
<circle cx="1005.44" cy="644.88" r="3.6" fill="#000"/>
<circle cx="1011.52" cy="644.6" r="3.6" fill="#000"/>
<circle cx="1017.59" cy="646.38" r="3.6" fill="#000"/>
<circle cx="1023.66" cy="640.17" r="3.6" fill="#000"/>
<rect x="753.4" y="597.2" width="273.3" height="52.8" fill="none" stroke="#000" stroke-width="3.3"/>
<line x1="742.15" y1="650" x2="753.4" y2="650" stroke="#000" stroke-width="3.3" />
<text x="740.75" y="657.16" font-size="20" text-anchor="end" >0</text>
<line x1="742.15" y1="632.4" x2="753.4" y2="632.4" stroke="#000" stroke-width="3.3" />
<text x="740.75" y="639.56" font-size="20" text-anchor="end" >20</text>
<line x1="742.15" y1="614.8" x2="753.4" y2="614.8" stroke="#000" stroke-width="3.3" />
<text x="740.75" y="621.96" font-size="20" text-anchor="end" >40</text>
<line x1="742.15" y1="597.2" x2="753.4" y2="597.2" stroke="#000" stroke-width="3.3" />
<text x="740.75" y="604.36" font-size="20" text-anchor="end" >60</text>
<line x1="753.4" y1="650" x2="753.4" y2="660" stroke="#000" stroke-width="3.3" />
<text x="753.4" y="678.6" font-size="20" text-anchor="middle" >0</text>
<line x1="844.5" y1="650" x2="844.5" y2="660" stroke="#000" stroke-width="3.3" />
<text x="844.5" y="678.6" font-size="20" text-anchor="middle" >30</text>
<line x1="935.6" y1="650" x2="935.6" y2="660" stroke="#000" stroke-width="3.3" />
<text x="935.6" y="678.6" font-size="20" text-anchor="middle" >60</text>
<line x1="1026.7" y1="650" x2="1026.7" y2="660" stroke="#000" stroke-width="3.3" />
<text x="1026.7" y="678.6" font-size="20" text-anchor="middle" >90</text>
<text x="889.5" y="586.7" font-size="19" text-anchor="middle" >Mock</text>
<text x="890" y="695" font-size="19" text-anchor="middle" >Time (read number)</text>
<text transform="translate(689.2,520.5) rotate(-90)" font-size="18.8" text-anchor="middle">ROS accumulation (RLUs)</text>
</svg>
</body></html>
